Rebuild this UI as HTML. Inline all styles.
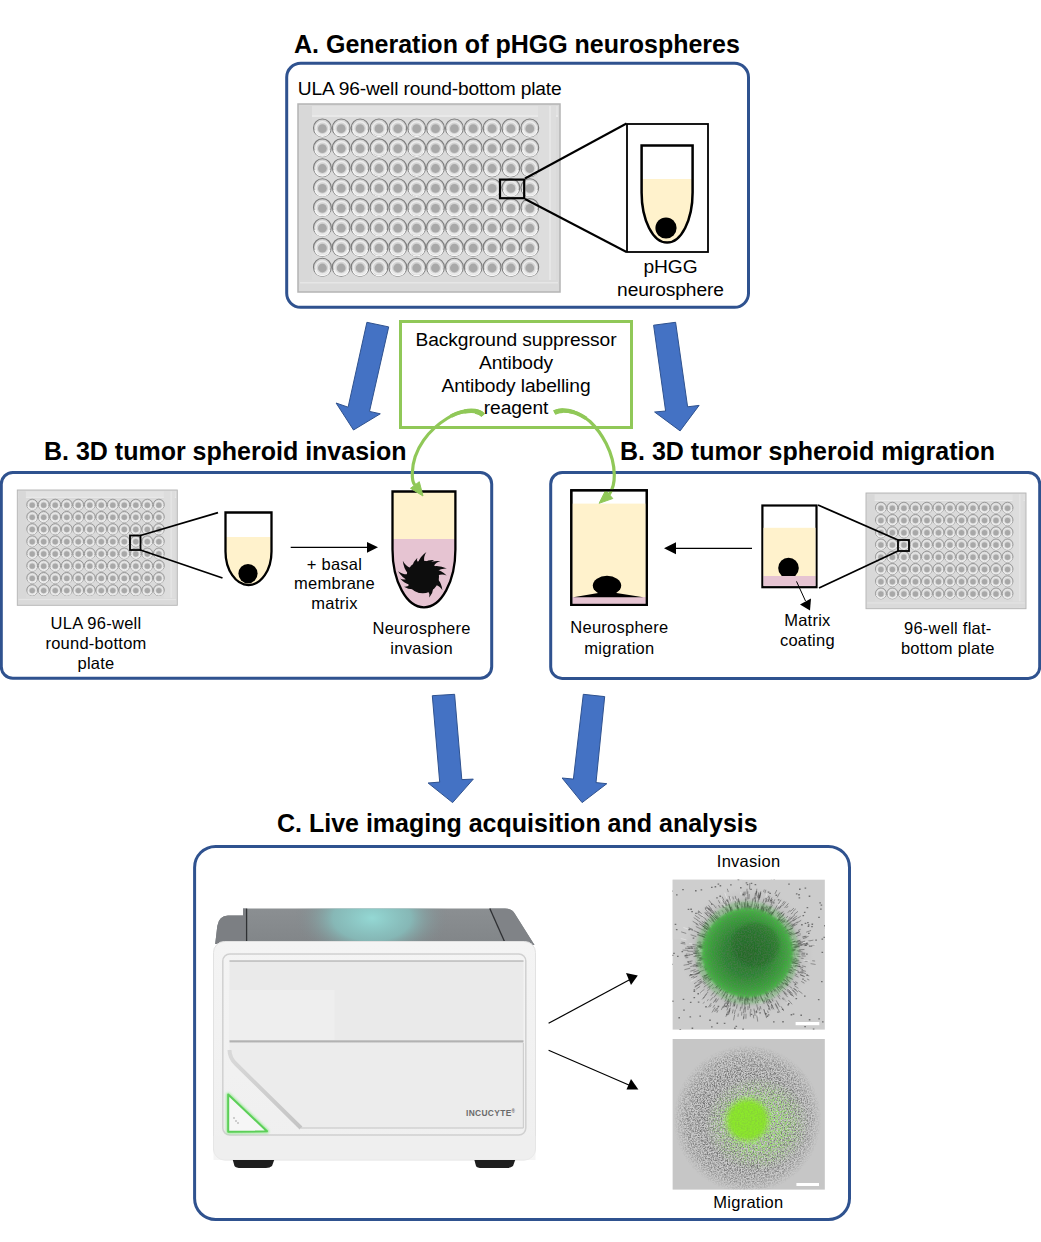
<!DOCTYPE html><html><head><meta charset="utf-8"><style>html,body{margin:0;padding:0;background:#fff;width:1041px;height:1242px;overflow:hidden;}svg{display:block;}text{font-family:"Liberation Sans",sans-serif;}</style></head><body>
<svg width="1041" height="1242" viewBox="0 0 1041 1242">
<defs>
<linearGradient id="plg" x1="0" y1="0" x2="1" y2="1"><stop offset="0" stop-color="#d9d9d9"/><stop offset="1" stop-color="#cfcfcf"/></linearGradient>
<g id="plate">
<rect x="0" y="0" width="262" height="188" fill="#dadada"/>
<rect x="0" y="0" width="262" height="188" fill="none" stroke="#b4b4b4" stroke-width="1.5"/>
<rect x="2" y="2" width="258" height="9" fill="#e2e2e2"/>
<rect x="2" y="11" width="258" height="2" fill="#e9e9e9"/>
<rect x="240" y="2" width="18" height="184" fill="#dddddd"/>
<rect x="251" y="2" width="2" height="184" fill="#e6e6e6"/>
<rect x="2" y="2" width="12" height="184" fill="#d8d8d8"/>
<rect x="2" y="176" width="258" height="10" fill="#dadada"/>
<rect x="2" y="178" width="258" height="1.5" fill="#e6e6e6"/>
<circle cx="24.4" cy="23.9" r="8.9" fill="#d4d4d4" stroke="#7c7c7c" stroke-width="1.1"/>
<circle cx="24.4" cy="24.3" r="6.5" fill="none" stroke="#ececec" stroke-width="1.5"/>
<path d="M17.0,26.4 A7.6,7.6 0 0 0 31.8,26.4" fill="none" stroke="#f6f6f6" stroke-width="1.4"/>
<circle cx="24.4" cy="24.7" r="4.4" fill="#a8a8a8"/>
<circle cx="43.2" cy="23.9" r="8.9" fill="#d4d4d4" stroke="#7c7c7c" stroke-width="1.1"/>
<circle cx="43.2" cy="24.3" r="6.5" fill="none" stroke="#ececec" stroke-width="1.5"/>
<path d="M35.9,26.4 A7.6,7.6 0 0 0 50.6,26.4" fill="none" stroke="#f6f6f6" stroke-width="1.4"/>
<circle cx="43.2" cy="24.7" r="4.4" fill="#a8a8a8"/>
<circle cx="62.1" cy="23.9" r="8.9" fill="#d4d4d4" stroke="#7c7c7c" stroke-width="1.1"/>
<circle cx="62.1" cy="24.3" r="6.5" fill="none" stroke="#ececec" stroke-width="1.5"/>
<path d="M54.7,26.4 A7.6,7.6 0 0 0 69.5,26.4" fill="none" stroke="#f6f6f6" stroke-width="1.4"/>
<circle cx="62.1" cy="24.7" r="4.4" fill="#a8a8a8"/>
<circle cx="81.0" cy="23.9" r="8.9" fill="#d4d4d4" stroke="#7c7c7c" stroke-width="1.1"/>
<circle cx="81.0" cy="24.3" r="6.5" fill="none" stroke="#ececec" stroke-width="1.5"/>
<path d="M73.5,26.4 A7.6,7.6 0 0 0 88.4,26.4" fill="none" stroke="#f6f6f6" stroke-width="1.4"/>
<circle cx="81.0" cy="24.7" r="4.4" fill="#a8a8a8"/>
<circle cx="99.8" cy="23.9" r="8.9" fill="#d4d4d4" stroke="#7c7c7c" stroke-width="1.1"/>
<circle cx="99.8" cy="24.3" r="6.5" fill="none" stroke="#ececec" stroke-width="1.5"/>
<path d="M92.4,26.4 A7.6,7.6 0 0 0 107.2,26.4" fill="none" stroke="#f6f6f6" stroke-width="1.4"/>
<circle cx="99.8" cy="24.7" r="4.4" fill="#a8a8a8"/>
<circle cx="118.7" cy="23.9" r="8.9" fill="#d4d4d4" stroke="#7c7c7c" stroke-width="1.1"/>
<circle cx="118.7" cy="24.3" r="6.5" fill="none" stroke="#ececec" stroke-width="1.5"/>
<path d="M111.2,26.4 A7.6,7.6 0 0 0 126.1,26.4" fill="none" stroke="#f6f6f6" stroke-width="1.4"/>
<circle cx="118.7" cy="24.7" r="4.4" fill="#a8a8a8"/>
<circle cx="137.5" cy="23.9" r="8.9" fill="#d4d4d4" stroke="#7c7c7c" stroke-width="1.1"/>
<circle cx="137.5" cy="24.3" r="6.5" fill="none" stroke="#ececec" stroke-width="1.5"/>
<path d="M130.1,26.4 A7.6,7.6 0 0 0 144.9,26.4" fill="none" stroke="#f6f6f6" stroke-width="1.4"/>
<circle cx="137.5" cy="24.7" r="4.4" fill="#a8a8a8"/>
<circle cx="156.4" cy="23.9" r="8.9" fill="#d4d4d4" stroke="#7c7c7c" stroke-width="1.1"/>
<circle cx="156.4" cy="24.3" r="6.5" fill="none" stroke="#ececec" stroke-width="1.5"/>
<path d="M149.0,26.4 A7.6,7.6 0 0 0 163.8,26.4" fill="none" stroke="#f6f6f6" stroke-width="1.4"/>
<circle cx="156.4" cy="24.7" r="4.4" fill="#a8a8a8"/>
<circle cx="175.2" cy="23.9" r="8.9" fill="#d4d4d4" stroke="#7c7c7c" stroke-width="1.1"/>
<circle cx="175.2" cy="24.3" r="6.5" fill="none" stroke="#ececec" stroke-width="1.5"/>
<path d="M167.8,26.4 A7.6,7.6 0 0 0 182.6,26.4" fill="none" stroke="#f6f6f6" stroke-width="1.4"/>
<circle cx="175.2" cy="24.7" r="4.4" fill="#a8a8a8"/>
<circle cx="194.1" cy="23.9" r="8.9" fill="#d4d4d4" stroke="#7c7c7c" stroke-width="1.1"/>
<circle cx="194.1" cy="24.3" r="6.5" fill="none" stroke="#ececec" stroke-width="1.5"/>
<path d="M186.7,26.4 A7.6,7.6 0 0 0 201.5,26.4" fill="none" stroke="#f6f6f6" stroke-width="1.4"/>
<circle cx="194.1" cy="24.7" r="4.4" fill="#a8a8a8"/>
<circle cx="212.9" cy="23.9" r="8.9" fill="#d4d4d4" stroke="#7c7c7c" stroke-width="1.1"/>
<circle cx="212.9" cy="24.3" r="6.5" fill="none" stroke="#ececec" stroke-width="1.5"/>
<path d="M205.5,26.4 A7.6,7.6 0 0 0 220.3,26.4" fill="none" stroke="#f6f6f6" stroke-width="1.4"/>
<circle cx="212.9" cy="24.7" r="4.4" fill="#a8a8a8"/>
<circle cx="231.8" cy="23.9" r="8.9" fill="#d4d4d4" stroke="#7c7c7c" stroke-width="1.1"/>
<circle cx="231.8" cy="24.3" r="6.5" fill="none" stroke="#ececec" stroke-width="1.5"/>
<path d="M224.4,26.4 A7.6,7.6 0 0 0 239.2,26.4" fill="none" stroke="#f6f6f6" stroke-width="1.4"/>
<circle cx="231.8" cy="24.7" r="4.4" fill="#a8a8a8"/>
<circle cx="24.4" cy="43.8" r="8.9" fill="#d4d4d4" stroke="#7c7c7c" stroke-width="1.1"/>
<circle cx="24.4" cy="44.2" r="6.5" fill="none" stroke="#ececec" stroke-width="1.5"/>
<path d="M17.0,46.3 A7.6,7.6 0 0 0 31.8,46.3" fill="none" stroke="#f6f6f6" stroke-width="1.4"/>
<circle cx="24.4" cy="44.6" r="4.4" fill="#a8a8a8"/>
<circle cx="43.2" cy="43.8" r="8.9" fill="#d4d4d4" stroke="#7c7c7c" stroke-width="1.1"/>
<circle cx="43.2" cy="44.2" r="6.5" fill="none" stroke="#ececec" stroke-width="1.5"/>
<path d="M35.9,46.3 A7.6,7.6 0 0 0 50.6,46.3" fill="none" stroke="#f6f6f6" stroke-width="1.4"/>
<circle cx="43.2" cy="44.6" r="4.4" fill="#a8a8a8"/>
<circle cx="62.1" cy="43.8" r="8.9" fill="#d4d4d4" stroke="#7c7c7c" stroke-width="1.1"/>
<circle cx="62.1" cy="44.2" r="6.5" fill="none" stroke="#ececec" stroke-width="1.5"/>
<path d="M54.7,46.3 A7.6,7.6 0 0 0 69.5,46.3" fill="none" stroke="#f6f6f6" stroke-width="1.4"/>
<circle cx="62.1" cy="44.6" r="4.4" fill="#a8a8a8"/>
<circle cx="81.0" cy="43.8" r="8.9" fill="#d4d4d4" stroke="#7c7c7c" stroke-width="1.1"/>
<circle cx="81.0" cy="44.2" r="6.5" fill="none" stroke="#ececec" stroke-width="1.5"/>
<path d="M73.5,46.3 A7.6,7.6 0 0 0 88.4,46.3" fill="none" stroke="#f6f6f6" stroke-width="1.4"/>
<circle cx="81.0" cy="44.6" r="4.4" fill="#a8a8a8"/>
<circle cx="99.8" cy="43.8" r="8.9" fill="#d4d4d4" stroke="#7c7c7c" stroke-width="1.1"/>
<circle cx="99.8" cy="44.2" r="6.5" fill="none" stroke="#ececec" stroke-width="1.5"/>
<path d="M92.4,46.3 A7.6,7.6 0 0 0 107.2,46.3" fill="none" stroke="#f6f6f6" stroke-width="1.4"/>
<circle cx="99.8" cy="44.6" r="4.4" fill="#a8a8a8"/>
<circle cx="118.7" cy="43.8" r="8.9" fill="#d4d4d4" stroke="#7c7c7c" stroke-width="1.1"/>
<circle cx="118.7" cy="44.2" r="6.5" fill="none" stroke="#ececec" stroke-width="1.5"/>
<path d="M111.2,46.3 A7.6,7.6 0 0 0 126.1,46.3" fill="none" stroke="#f6f6f6" stroke-width="1.4"/>
<circle cx="118.7" cy="44.6" r="4.4" fill="#a8a8a8"/>
<circle cx="137.5" cy="43.8" r="8.9" fill="#d4d4d4" stroke="#7c7c7c" stroke-width="1.1"/>
<circle cx="137.5" cy="44.2" r="6.5" fill="none" stroke="#ececec" stroke-width="1.5"/>
<path d="M130.1,46.3 A7.6,7.6 0 0 0 144.9,46.3" fill="none" stroke="#f6f6f6" stroke-width="1.4"/>
<circle cx="137.5" cy="44.6" r="4.4" fill="#a8a8a8"/>
<circle cx="156.4" cy="43.8" r="8.9" fill="#d4d4d4" stroke="#7c7c7c" stroke-width="1.1"/>
<circle cx="156.4" cy="44.2" r="6.5" fill="none" stroke="#ececec" stroke-width="1.5"/>
<path d="M149.0,46.3 A7.6,7.6 0 0 0 163.8,46.3" fill="none" stroke="#f6f6f6" stroke-width="1.4"/>
<circle cx="156.4" cy="44.6" r="4.4" fill="#a8a8a8"/>
<circle cx="175.2" cy="43.8" r="8.9" fill="#d4d4d4" stroke="#7c7c7c" stroke-width="1.1"/>
<circle cx="175.2" cy="44.2" r="6.5" fill="none" stroke="#ececec" stroke-width="1.5"/>
<path d="M167.8,46.3 A7.6,7.6 0 0 0 182.6,46.3" fill="none" stroke="#f6f6f6" stroke-width="1.4"/>
<circle cx="175.2" cy="44.6" r="4.4" fill="#a8a8a8"/>
<circle cx="194.1" cy="43.8" r="8.9" fill="#d4d4d4" stroke="#7c7c7c" stroke-width="1.1"/>
<circle cx="194.1" cy="44.2" r="6.5" fill="none" stroke="#ececec" stroke-width="1.5"/>
<path d="M186.7,46.3 A7.6,7.6 0 0 0 201.5,46.3" fill="none" stroke="#f6f6f6" stroke-width="1.4"/>
<circle cx="194.1" cy="44.6" r="4.4" fill="#a8a8a8"/>
<circle cx="212.9" cy="43.8" r="8.9" fill="#d4d4d4" stroke="#7c7c7c" stroke-width="1.1"/>
<circle cx="212.9" cy="44.2" r="6.5" fill="none" stroke="#ececec" stroke-width="1.5"/>
<path d="M205.5,46.3 A7.6,7.6 0 0 0 220.3,46.3" fill="none" stroke="#f6f6f6" stroke-width="1.4"/>
<circle cx="212.9" cy="44.6" r="4.4" fill="#a8a8a8"/>
<circle cx="231.8" cy="43.8" r="8.9" fill="#d4d4d4" stroke="#7c7c7c" stroke-width="1.1"/>
<circle cx="231.8" cy="44.2" r="6.5" fill="none" stroke="#ececec" stroke-width="1.5"/>
<path d="M224.4,46.3 A7.6,7.6 0 0 0 239.2,46.3" fill="none" stroke="#f6f6f6" stroke-width="1.4"/>
<circle cx="231.8" cy="44.6" r="4.4" fill="#a8a8a8"/>
<circle cx="24.4" cy="63.7" r="8.9" fill="#d4d4d4" stroke="#7c7c7c" stroke-width="1.1"/>
<circle cx="24.4" cy="64.1" r="6.5" fill="none" stroke="#ececec" stroke-width="1.5"/>
<path d="M17.0,66.2 A7.6,7.6 0 0 0 31.8,66.2" fill="none" stroke="#f6f6f6" stroke-width="1.4"/>
<circle cx="24.4" cy="64.5" r="4.4" fill="#a8a8a8"/>
<circle cx="43.2" cy="63.7" r="8.9" fill="#d4d4d4" stroke="#7c7c7c" stroke-width="1.1"/>
<circle cx="43.2" cy="64.1" r="6.5" fill="none" stroke="#ececec" stroke-width="1.5"/>
<path d="M35.9,66.2 A7.6,7.6 0 0 0 50.6,66.2" fill="none" stroke="#f6f6f6" stroke-width="1.4"/>
<circle cx="43.2" cy="64.5" r="4.4" fill="#a8a8a8"/>
<circle cx="62.1" cy="63.7" r="8.9" fill="#d4d4d4" stroke="#7c7c7c" stroke-width="1.1"/>
<circle cx="62.1" cy="64.1" r="6.5" fill="none" stroke="#ececec" stroke-width="1.5"/>
<path d="M54.7,66.2 A7.6,7.6 0 0 0 69.5,66.2" fill="none" stroke="#f6f6f6" stroke-width="1.4"/>
<circle cx="62.1" cy="64.5" r="4.4" fill="#a8a8a8"/>
<circle cx="81.0" cy="63.7" r="8.9" fill="#d4d4d4" stroke="#7c7c7c" stroke-width="1.1"/>
<circle cx="81.0" cy="64.1" r="6.5" fill="none" stroke="#ececec" stroke-width="1.5"/>
<path d="M73.5,66.2 A7.6,7.6 0 0 0 88.4,66.2" fill="none" stroke="#f6f6f6" stroke-width="1.4"/>
<circle cx="81.0" cy="64.5" r="4.4" fill="#a8a8a8"/>
<circle cx="99.8" cy="63.7" r="8.9" fill="#d4d4d4" stroke="#7c7c7c" stroke-width="1.1"/>
<circle cx="99.8" cy="64.1" r="6.5" fill="none" stroke="#ececec" stroke-width="1.5"/>
<path d="M92.4,66.2 A7.6,7.6 0 0 0 107.2,66.2" fill="none" stroke="#f6f6f6" stroke-width="1.4"/>
<circle cx="99.8" cy="64.5" r="4.4" fill="#a8a8a8"/>
<circle cx="118.7" cy="63.7" r="8.9" fill="#d4d4d4" stroke="#7c7c7c" stroke-width="1.1"/>
<circle cx="118.7" cy="64.1" r="6.5" fill="none" stroke="#ececec" stroke-width="1.5"/>
<path d="M111.2,66.2 A7.6,7.6 0 0 0 126.1,66.2" fill="none" stroke="#f6f6f6" stroke-width="1.4"/>
<circle cx="118.7" cy="64.5" r="4.4" fill="#a8a8a8"/>
<circle cx="137.5" cy="63.7" r="8.9" fill="#d4d4d4" stroke="#7c7c7c" stroke-width="1.1"/>
<circle cx="137.5" cy="64.1" r="6.5" fill="none" stroke="#ececec" stroke-width="1.5"/>
<path d="M130.1,66.2 A7.6,7.6 0 0 0 144.9,66.2" fill="none" stroke="#f6f6f6" stroke-width="1.4"/>
<circle cx="137.5" cy="64.5" r="4.4" fill="#a8a8a8"/>
<circle cx="156.4" cy="63.7" r="8.9" fill="#d4d4d4" stroke="#7c7c7c" stroke-width="1.1"/>
<circle cx="156.4" cy="64.1" r="6.5" fill="none" stroke="#ececec" stroke-width="1.5"/>
<path d="M149.0,66.2 A7.6,7.6 0 0 0 163.8,66.2" fill="none" stroke="#f6f6f6" stroke-width="1.4"/>
<circle cx="156.4" cy="64.5" r="4.4" fill="#a8a8a8"/>
<circle cx="175.2" cy="63.7" r="8.9" fill="#d4d4d4" stroke="#7c7c7c" stroke-width="1.1"/>
<circle cx="175.2" cy="64.1" r="6.5" fill="none" stroke="#ececec" stroke-width="1.5"/>
<path d="M167.8,66.2 A7.6,7.6 0 0 0 182.6,66.2" fill="none" stroke="#f6f6f6" stroke-width="1.4"/>
<circle cx="175.2" cy="64.5" r="4.4" fill="#a8a8a8"/>
<circle cx="194.1" cy="63.7" r="8.9" fill="#d4d4d4" stroke="#7c7c7c" stroke-width="1.1"/>
<circle cx="194.1" cy="64.1" r="6.5" fill="none" stroke="#ececec" stroke-width="1.5"/>
<path d="M186.7,66.2 A7.6,7.6 0 0 0 201.5,66.2" fill="none" stroke="#f6f6f6" stroke-width="1.4"/>
<circle cx="194.1" cy="64.5" r="4.4" fill="#a8a8a8"/>
<circle cx="212.9" cy="63.7" r="8.9" fill="#d4d4d4" stroke="#7c7c7c" stroke-width="1.1"/>
<circle cx="212.9" cy="64.1" r="6.5" fill="none" stroke="#ececec" stroke-width="1.5"/>
<path d="M205.5,66.2 A7.6,7.6 0 0 0 220.3,66.2" fill="none" stroke="#f6f6f6" stroke-width="1.4"/>
<circle cx="212.9" cy="64.5" r="4.4" fill="#a8a8a8"/>
<circle cx="231.8" cy="63.7" r="8.9" fill="#d4d4d4" stroke="#7c7c7c" stroke-width="1.1"/>
<circle cx="231.8" cy="64.1" r="6.5" fill="none" stroke="#ececec" stroke-width="1.5"/>
<path d="M224.4,66.2 A7.6,7.6 0 0 0 239.2,66.2" fill="none" stroke="#f6f6f6" stroke-width="1.4"/>
<circle cx="231.8" cy="64.5" r="4.4" fill="#a8a8a8"/>
<circle cx="24.4" cy="83.6" r="8.9" fill="#d4d4d4" stroke="#7c7c7c" stroke-width="1.1"/>
<circle cx="24.4" cy="84.0" r="6.5" fill="none" stroke="#ececec" stroke-width="1.5"/>
<path d="M17.0,86.1 A7.6,7.6 0 0 0 31.8,86.1" fill="none" stroke="#f6f6f6" stroke-width="1.4"/>
<circle cx="24.4" cy="84.4" r="4.4" fill="#a8a8a8"/>
<circle cx="43.2" cy="83.6" r="8.9" fill="#d4d4d4" stroke="#7c7c7c" stroke-width="1.1"/>
<circle cx="43.2" cy="84.0" r="6.5" fill="none" stroke="#ececec" stroke-width="1.5"/>
<path d="M35.9,86.1 A7.6,7.6 0 0 0 50.6,86.1" fill="none" stroke="#f6f6f6" stroke-width="1.4"/>
<circle cx="43.2" cy="84.4" r="4.4" fill="#a8a8a8"/>
<circle cx="62.1" cy="83.6" r="8.9" fill="#d4d4d4" stroke="#7c7c7c" stroke-width="1.1"/>
<circle cx="62.1" cy="84.0" r="6.5" fill="none" stroke="#ececec" stroke-width="1.5"/>
<path d="M54.7,86.1 A7.6,7.6 0 0 0 69.5,86.1" fill="none" stroke="#f6f6f6" stroke-width="1.4"/>
<circle cx="62.1" cy="84.4" r="4.4" fill="#a8a8a8"/>
<circle cx="81.0" cy="83.6" r="8.9" fill="#d4d4d4" stroke="#7c7c7c" stroke-width="1.1"/>
<circle cx="81.0" cy="84.0" r="6.5" fill="none" stroke="#ececec" stroke-width="1.5"/>
<path d="M73.5,86.1 A7.6,7.6 0 0 0 88.4,86.1" fill="none" stroke="#f6f6f6" stroke-width="1.4"/>
<circle cx="81.0" cy="84.4" r="4.4" fill="#a8a8a8"/>
<circle cx="99.8" cy="83.6" r="8.9" fill="#d4d4d4" stroke="#7c7c7c" stroke-width="1.1"/>
<circle cx="99.8" cy="84.0" r="6.5" fill="none" stroke="#ececec" stroke-width="1.5"/>
<path d="M92.4,86.1 A7.6,7.6 0 0 0 107.2,86.1" fill="none" stroke="#f6f6f6" stroke-width="1.4"/>
<circle cx="99.8" cy="84.4" r="4.4" fill="#a8a8a8"/>
<circle cx="118.7" cy="83.6" r="8.9" fill="#d4d4d4" stroke="#7c7c7c" stroke-width="1.1"/>
<circle cx="118.7" cy="84.0" r="6.5" fill="none" stroke="#ececec" stroke-width="1.5"/>
<path d="M111.2,86.1 A7.6,7.6 0 0 0 126.1,86.1" fill="none" stroke="#f6f6f6" stroke-width="1.4"/>
<circle cx="118.7" cy="84.4" r="4.4" fill="#a8a8a8"/>
<circle cx="137.5" cy="83.6" r="8.9" fill="#d4d4d4" stroke="#7c7c7c" stroke-width="1.1"/>
<circle cx="137.5" cy="84.0" r="6.5" fill="none" stroke="#ececec" stroke-width="1.5"/>
<path d="M130.1,86.1 A7.6,7.6 0 0 0 144.9,86.1" fill="none" stroke="#f6f6f6" stroke-width="1.4"/>
<circle cx="137.5" cy="84.4" r="4.4" fill="#a8a8a8"/>
<circle cx="156.4" cy="83.6" r="8.9" fill="#d4d4d4" stroke="#7c7c7c" stroke-width="1.1"/>
<circle cx="156.4" cy="84.0" r="6.5" fill="none" stroke="#ececec" stroke-width="1.5"/>
<path d="M149.0,86.1 A7.6,7.6 0 0 0 163.8,86.1" fill="none" stroke="#f6f6f6" stroke-width="1.4"/>
<circle cx="156.4" cy="84.4" r="4.4" fill="#a8a8a8"/>
<circle cx="175.2" cy="83.6" r="8.9" fill="#d4d4d4" stroke="#7c7c7c" stroke-width="1.1"/>
<circle cx="175.2" cy="84.0" r="6.5" fill="none" stroke="#ececec" stroke-width="1.5"/>
<path d="M167.8,86.1 A7.6,7.6 0 0 0 182.6,86.1" fill="none" stroke="#f6f6f6" stroke-width="1.4"/>
<circle cx="175.2" cy="84.4" r="4.4" fill="#a8a8a8"/>
<circle cx="194.1" cy="83.6" r="8.9" fill="#d4d4d4" stroke="#7c7c7c" stroke-width="1.1"/>
<circle cx="194.1" cy="84.0" r="6.5" fill="none" stroke="#ececec" stroke-width="1.5"/>
<path d="M186.7,86.1 A7.6,7.6 0 0 0 201.5,86.1" fill="none" stroke="#f6f6f6" stroke-width="1.4"/>
<circle cx="194.1" cy="84.4" r="4.4" fill="#a8a8a8"/>
<circle cx="212.9" cy="83.6" r="8.9" fill="#d4d4d4" stroke="#7c7c7c" stroke-width="1.1"/>
<circle cx="212.9" cy="84.0" r="6.5" fill="none" stroke="#ececec" stroke-width="1.5"/>
<path d="M205.5,86.1 A7.6,7.6 0 0 0 220.3,86.1" fill="none" stroke="#f6f6f6" stroke-width="1.4"/>
<circle cx="212.9" cy="84.4" r="4.4" fill="#a8a8a8"/>
<circle cx="231.8" cy="83.6" r="8.9" fill="#d4d4d4" stroke="#7c7c7c" stroke-width="1.1"/>
<circle cx="231.8" cy="84.0" r="6.5" fill="none" stroke="#ececec" stroke-width="1.5"/>
<path d="M224.4,86.1 A7.6,7.6 0 0 0 239.2,86.1" fill="none" stroke="#f6f6f6" stroke-width="1.4"/>
<circle cx="231.8" cy="84.4" r="4.4" fill="#a8a8a8"/>
<circle cx="24.4" cy="103.5" r="8.9" fill="#d4d4d4" stroke="#7c7c7c" stroke-width="1.1"/>
<circle cx="24.4" cy="103.9" r="6.5" fill="none" stroke="#ececec" stroke-width="1.5"/>
<path d="M17.0,106.0 A7.6,7.6 0 0 0 31.8,106.0" fill="none" stroke="#f6f6f6" stroke-width="1.4"/>
<circle cx="24.4" cy="104.3" r="4.4" fill="#a8a8a8"/>
<circle cx="43.2" cy="103.5" r="8.9" fill="#d4d4d4" stroke="#7c7c7c" stroke-width="1.1"/>
<circle cx="43.2" cy="103.9" r="6.5" fill="none" stroke="#ececec" stroke-width="1.5"/>
<path d="M35.9,106.0 A7.6,7.6 0 0 0 50.6,106.0" fill="none" stroke="#f6f6f6" stroke-width="1.4"/>
<circle cx="43.2" cy="104.3" r="4.4" fill="#a8a8a8"/>
<circle cx="62.1" cy="103.5" r="8.9" fill="#d4d4d4" stroke="#7c7c7c" stroke-width="1.1"/>
<circle cx="62.1" cy="103.9" r="6.5" fill="none" stroke="#ececec" stroke-width="1.5"/>
<path d="M54.7,106.0 A7.6,7.6 0 0 0 69.5,106.0" fill="none" stroke="#f6f6f6" stroke-width="1.4"/>
<circle cx="62.1" cy="104.3" r="4.4" fill="#a8a8a8"/>
<circle cx="81.0" cy="103.5" r="8.9" fill="#d4d4d4" stroke="#7c7c7c" stroke-width="1.1"/>
<circle cx="81.0" cy="103.9" r="6.5" fill="none" stroke="#ececec" stroke-width="1.5"/>
<path d="M73.5,106.0 A7.6,7.6 0 0 0 88.4,106.0" fill="none" stroke="#f6f6f6" stroke-width="1.4"/>
<circle cx="81.0" cy="104.3" r="4.4" fill="#a8a8a8"/>
<circle cx="99.8" cy="103.5" r="8.9" fill="#d4d4d4" stroke="#7c7c7c" stroke-width="1.1"/>
<circle cx="99.8" cy="103.9" r="6.5" fill="none" stroke="#ececec" stroke-width="1.5"/>
<path d="M92.4,106.0 A7.6,7.6 0 0 0 107.2,106.0" fill="none" stroke="#f6f6f6" stroke-width="1.4"/>
<circle cx="99.8" cy="104.3" r="4.4" fill="#a8a8a8"/>
<circle cx="118.7" cy="103.5" r="8.9" fill="#d4d4d4" stroke="#7c7c7c" stroke-width="1.1"/>
<circle cx="118.7" cy="103.9" r="6.5" fill="none" stroke="#ececec" stroke-width="1.5"/>
<path d="M111.2,106.0 A7.6,7.6 0 0 0 126.1,106.0" fill="none" stroke="#f6f6f6" stroke-width="1.4"/>
<circle cx="118.7" cy="104.3" r="4.4" fill="#a8a8a8"/>
<circle cx="137.5" cy="103.5" r="8.9" fill="#d4d4d4" stroke="#7c7c7c" stroke-width="1.1"/>
<circle cx="137.5" cy="103.9" r="6.5" fill="none" stroke="#ececec" stroke-width="1.5"/>
<path d="M130.1,106.0 A7.6,7.6 0 0 0 144.9,106.0" fill="none" stroke="#f6f6f6" stroke-width="1.4"/>
<circle cx="137.5" cy="104.3" r="4.4" fill="#a8a8a8"/>
<circle cx="156.4" cy="103.5" r="8.9" fill="#d4d4d4" stroke="#7c7c7c" stroke-width="1.1"/>
<circle cx="156.4" cy="103.9" r="6.5" fill="none" stroke="#ececec" stroke-width="1.5"/>
<path d="M149.0,106.0 A7.6,7.6 0 0 0 163.8,106.0" fill="none" stroke="#f6f6f6" stroke-width="1.4"/>
<circle cx="156.4" cy="104.3" r="4.4" fill="#a8a8a8"/>
<circle cx="175.2" cy="103.5" r="8.9" fill="#d4d4d4" stroke="#7c7c7c" stroke-width="1.1"/>
<circle cx="175.2" cy="103.9" r="6.5" fill="none" stroke="#ececec" stroke-width="1.5"/>
<path d="M167.8,106.0 A7.6,7.6 0 0 0 182.6,106.0" fill="none" stroke="#f6f6f6" stroke-width="1.4"/>
<circle cx="175.2" cy="104.3" r="4.4" fill="#a8a8a8"/>
<circle cx="194.1" cy="103.5" r="8.9" fill="#d4d4d4" stroke="#7c7c7c" stroke-width="1.1"/>
<circle cx="194.1" cy="103.9" r="6.5" fill="none" stroke="#ececec" stroke-width="1.5"/>
<path d="M186.7,106.0 A7.6,7.6 0 0 0 201.5,106.0" fill="none" stroke="#f6f6f6" stroke-width="1.4"/>
<circle cx="194.1" cy="104.3" r="4.4" fill="#a8a8a8"/>
<circle cx="212.9" cy="103.5" r="8.9" fill="#d4d4d4" stroke="#7c7c7c" stroke-width="1.1"/>
<circle cx="212.9" cy="103.9" r="6.5" fill="none" stroke="#ececec" stroke-width="1.5"/>
<path d="M205.5,106.0 A7.6,7.6 0 0 0 220.3,106.0" fill="none" stroke="#f6f6f6" stroke-width="1.4"/>
<circle cx="212.9" cy="104.3" r="4.4" fill="#a8a8a8"/>
<circle cx="231.8" cy="103.5" r="8.9" fill="#d4d4d4" stroke="#7c7c7c" stroke-width="1.1"/>
<circle cx="231.8" cy="103.9" r="6.5" fill="none" stroke="#ececec" stroke-width="1.5"/>
<path d="M224.4,106.0 A7.6,7.6 0 0 0 239.2,106.0" fill="none" stroke="#f6f6f6" stroke-width="1.4"/>
<circle cx="231.8" cy="104.3" r="4.4" fill="#a8a8a8"/>
<circle cx="24.4" cy="123.4" r="8.9" fill="#d4d4d4" stroke="#7c7c7c" stroke-width="1.1"/>
<circle cx="24.4" cy="123.8" r="6.5" fill="none" stroke="#ececec" stroke-width="1.5"/>
<path d="M17.0,125.9 A7.6,7.6 0 0 0 31.8,125.9" fill="none" stroke="#f6f6f6" stroke-width="1.4"/>
<circle cx="24.4" cy="124.2" r="4.4" fill="#a8a8a8"/>
<circle cx="43.2" cy="123.4" r="8.9" fill="#d4d4d4" stroke="#7c7c7c" stroke-width="1.1"/>
<circle cx="43.2" cy="123.8" r="6.5" fill="none" stroke="#ececec" stroke-width="1.5"/>
<path d="M35.9,125.9 A7.6,7.6 0 0 0 50.6,125.9" fill="none" stroke="#f6f6f6" stroke-width="1.4"/>
<circle cx="43.2" cy="124.2" r="4.4" fill="#a8a8a8"/>
<circle cx="62.1" cy="123.4" r="8.9" fill="#d4d4d4" stroke="#7c7c7c" stroke-width="1.1"/>
<circle cx="62.1" cy="123.8" r="6.5" fill="none" stroke="#ececec" stroke-width="1.5"/>
<path d="M54.7,125.9 A7.6,7.6 0 0 0 69.5,125.9" fill="none" stroke="#f6f6f6" stroke-width="1.4"/>
<circle cx="62.1" cy="124.2" r="4.4" fill="#a8a8a8"/>
<circle cx="81.0" cy="123.4" r="8.9" fill="#d4d4d4" stroke="#7c7c7c" stroke-width="1.1"/>
<circle cx="81.0" cy="123.8" r="6.5" fill="none" stroke="#ececec" stroke-width="1.5"/>
<path d="M73.5,125.9 A7.6,7.6 0 0 0 88.4,125.9" fill="none" stroke="#f6f6f6" stroke-width="1.4"/>
<circle cx="81.0" cy="124.2" r="4.4" fill="#a8a8a8"/>
<circle cx="99.8" cy="123.4" r="8.9" fill="#d4d4d4" stroke="#7c7c7c" stroke-width="1.1"/>
<circle cx="99.8" cy="123.8" r="6.5" fill="none" stroke="#ececec" stroke-width="1.5"/>
<path d="M92.4,125.9 A7.6,7.6 0 0 0 107.2,125.9" fill="none" stroke="#f6f6f6" stroke-width="1.4"/>
<circle cx="99.8" cy="124.2" r="4.4" fill="#a8a8a8"/>
<circle cx="118.7" cy="123.4" r="8.9" fill="#d4d4d4" stroke="#7c7c7c" stroke-width="1.1"/>
<circle cx="118.7" cy="123.8" r="6.5" fill="none" stroke="#ececec" stroke-width="1.5"/>
<path d="M111.2,125.9 A7.6,7.6 0 0 0 126.1,125.9" fill="none" stroke="#f6f6f6" stroke-width="1.4"/>
<circle cx="118.7" cy="124.2" r="4.4" fill="#a8a8a8"/>
<circle cx="137.5" cy="123.4" r="8.9" fill="#d4d4d4" stroke="#7c7c7c" stroke-width="1.1"/>
<circle cx="137.5" cy="123.8" r="6.5" fill="none" stroke="#ececec" stroke-width="1.5"/>
<path d="M130.1,125.9 A7.6,7.6 0 0 0 144.9,125.9" fill="none" stroke="#f6f6f6" stroke-width="1.4"/>
<circle cx="137.5" cy="124.2" r="4.4" fill="#a8a8a8"/>
<circle cx="156.4" cy="123.4" r="8.9" fill="#d4d4d4" stroke="#7c7c7c" stroke-width="1.1"/>
<circle cx="156.4" cy="123.8" r="6.5" fill="none" stroke="#ececec" stroke-width="1.5"/>
<path d="M149.0,125.9 A7.6,7.6 0 0 0 163.8,125.9" fill="none" stroke="#f6f6f6" stroke-width="1.4"/>
<circle cx="156.4" cy="124.2" r="4.4" fill="#a8a8a8"/>
<circle cx="175.2" cy="123.4" r="8.9" fill="#d4d4d4" stroke="#7c7c7c" stroke-width="1.1"/>
<circle cx="175.2" cy="123.8" r="6.5" fill="none" stroke="#ececec" stroke-width="1.5"/>
<path d="M167.8,125.9 A7.6,7.6 0 0 0 182.6,125.9" fill="none" stroke="#f6f6f6" stroke-width="1.4"/>
<circle cx="175.2" cy="124.2" r="4.4" fill="#a8a8a8"/>
<circle cx="194.1" cy="123.4" r="8.9" fill="#d4d4d4" stroke="#7c7c7c" stroke-width="1.1"/>
<circle cx="194.1" cy="123.8" r="6.5" fill="none" stroke="#ececec" stroke-width="1.5"/>
<path d="M186.7,125.9 A7.6,7.6 0 0 0 201.5,125.9" fill="none" stroke="#f6f6f6" stroke-width="1.4"/>
<circle cx="194.1" cy="124.2" r="4.4" fill="#a8a8a8"/>
<circle cx="212.9" cy="123.4" r="8.9" fill="#d4d4d4" stroke="#7c7c7c" stroke-width="1.1"/>
<circle cx="212.9" cy="123.8" r="6.5" fill="none" stroke="#ececec" stroke-width="1.5"/>
<path d="M205.5,125.9 A7.6,7.6 0 0 0 220.3,125.9" fill="none" stroke="#f6f6f6" stroke-width="1.4"/>
<circle cx="212.9" cy="124.2" r="4.4" fill="#a8a8a8"/>
<circle cx="231.8" cy="123.4" r="8.9" fill="#d4d4d4" stroke="#7c7c7c" stroke-width="1.1"/>
<circle cx="231.8" cy="123.8" r="6.5" fill="none" stroke="#ececec" stroke-width="1.5"/>
<path d="M224.4,125.9 A7.6,7.6 0 0 0 239.2,125.9" fill="none" stroke="#f6f6f6" stroke-width="1.4"/>
<circle cx="231.8" cy="124.2" r="4.4" fill="#a8a8a8"/>
<circle cx="24.4" cy="143.3" r="8.9" fill="#d4d4d4" stroke="#7c7c7c" stroke-width="1.1"/>
<circle cx="24.4" cy="143.7" r="6.5" fill="none" stroke="#ececec" stroke-width="1.5"/>
<path d="M17.0,145.8 A7.6,7.6 0 0 0 31.8,145.8" fill="none" stroke="#f6f6f6" stroke-width="1.4"/>
<circle cx="24.4" cy="144.1" r="4.4" fill="#a8a8a8"/>
<circle cx="43.2" cy="143.3" r="8.9" fill="#d4d4d4" stroke="#7c7c7c" stroke-width="1.1"/>
<circle cx="43.2" cy="143.7" r="6.5" fill="none" stroke="#ececec" stroke-width="1.5"/>
<path d="M35.9,145.8 A7.6,7.6 0 0 0 50.6,145.8" fill="none" stroke="#f6f6f6" stroke-width="1.4"/>
<circle cx="43.2" cy="144.1" r="4.4" fill="#a8a8a8"/>
<circle cx="62.1" cy="143.3" r="8.9" fill="#d4d4d4" stroke="#7c7c7c" stroke-width="1.1"/>
<circle cx="62.1" cy="143.7" r="6.5" fill="none" stroke="#ececec" stroke-width="1.5"/>
<path d="M54.7,145.8 A7.6,7.6 0 0 0 69.5,145.8" fill="none" stroke="#f6f6f6" stroke-width="1.4"/>
<circle cx="62.1" cy="144.1" r="4.4" fill="#a8a8a8"/>
<circle cx="81.0" cy="143.3" r="8.9" fill="#d4d4d4" stroke="#7c7c7c" stroke-width="1.1"/>
<circle cx="81.0" cy="143.7" r="6.5" fill="none" stroke="#ececec" stroke-width="1.5"/>
<path d="M73.5,145.8 A7.6,7.6 0 0 0 88.4,145.8" fill="none" stroke="#f6f6f6" stroke-width="1.4"/>
<circle cx="81.0" cy="144.1" r="4.4" fill="#a8a8a8"/>
<circle cx="99.8" cy="143.3" r="8.9" fill="#d4d4d4" stroke="#7c7c7c" stroke-width="1.1"/>
<circle cx="99.8" cy="143.7" r="6.5" fill="none" stroke="#ececec" stroke-width="1.5"/>
<path d="M92.4,145.8 A7.6,7.6 0 0 0 107.2,145.8" fill="none" stroke="#f6f6f6" stroke-width="1.4"/>
<circle cx="99.8" cy="144.1" r="4.4" fill="#a8a8a8"/>
<circle cx="118.7" cy="143.3" r="8.9" fill="#d4d4d4" stroke="#7c7c7c" stroke-width="1.1"/>
<circle cx="118.7" cy="143.7" r="6.5" fill="none" stroke="#ececec" stroke-width="1.5"/>
<path d="M111.2,145.8 A7.6,7.6 0 0 0 126.1,145.8" fill="none" stroke="#f6f6f6" stroke-width="1.4"/>
<circle cx="118.7" cy="144.1" r="4.4" fill="#a8a8a8"/>
<circle cx="137.5" cy="143.3" r="8.9" fill="#d4d4d4" stroke="#7c7c7c" stroke-width="1.1"/>
<circle cx="137.5" cy="143.7" r="6.5" fill="none" stroke="#ececec" stroke-width="1.5"/>
<path d="M130.1,145.8 A7.6,7.6 0 0 0 144.9,145.8" fill="none" stroke="#f6f6f6" stroke-width="1.4"/>
<circle cx="137.5" cy="144.1" r="4.4" fill="#a8a8a8"/>
<circle cx="156.4" cy="143.3" r="8.9" fill="#d4d4d4" stroke="#7c7c7c" stroke-width="1.1"/>
<circle cx="156.4" cy="143.7" r="6.5" fill="none" stroke="#ececec" stroke-width="1.5"/>
<path d="M149.0,145.8 A7.6,7.6 0 0 0 163.8,145.8" fill="none" stroke="#f6f6f6" stroke-width="1.4"/>
<circle cx="156.4" cy="144.1" r="4.4" fill="#a8a8a8"/>
<circle cx="175.2" cy="143.3" r="8.9" fill="#d4d4d4" stroke="#7c7c7c" stroke-width="1.1"/>
<circle cx="175.2" cy="143.7" r="6.5" fill="none" stroke="#ececec" stroke-width="1.5"/>
<path d="M167.8,145.8 A7.6,7.6 0 0 0 182.6,145.8" fill="none" stroke="#f6f6f6" stroke-width="1.4"/>
<circle cx="175.2" cy="144.1" r="4.4" fill="#a8a8a8"/>
<circle cx="194.1" cy="143.3" r="8.9" fill="#d4d4d4" stroke="#7c7c7c" stroke-width="1.1"/>
<circle cx="194.1" cy="143.7" r="6.5" fill="none" stroke="#ececec" stroke-width="1.5"/>
<path d="M186.7,145.8 A7.6,7.6 0 0 0 201.5,145.8" fill="none" stroke="#f6f6f6" stroke-width="1.4"/>
<circle cx="194.1" cy="144.1" r="4.4" fill="#a8a8a8"/>
<circle cx="212.9" cy="143.3" r="8.9" fill="#d4d4d4" stroke="#7c7c7c" stroke-width="1.1"/>
<circle cx="212.9" cy="143.7" r="6.5" fill="none" stroke="#ececec" stroke-width="1.5"/>
<path d="M205.5,145.8 A7.6,7.6 0 0 0 220.3,145.8" fill="none" stroke="#f6f6f6" stroke-width="1.4"/>
<circle cx="212.9" cy="144.1" r="4.4" fill="#a8a8a8"/>
<circle cx="231.8" cy="143.3" r="8.9" fill="#d4d4d4" stroke="#7c7c7c" stroke-width="1.1"/>
<circle cx="231.8" cy="143.7" r="6.5" fill="none" stroke="#ececec" stroke-width="1.5"/>
<path d="M224.4,145.8 A7.6,7.6 0 0 0 239.2,145.8" fill="none" stroke="#f6f6f6" stroke-width="1.4"/>
<circle cx="231.8" cy="144.1" r="4.4" fill="#a8a8a8"/>
<circle cx="24.4" cy="163.2" r="8.9" fill="#d4d4d4" stroke="#7c7c7c" stroke-width="1.1"/>
<circle cx="24.4" cy="163.6" r="6.5" fill="none" stroke="#ececec" stroke-width="1.5"/>
<path d="M17.0,165.7 A7.6,7.6 0 0 0 31.8,165.7" fill="none" stroke="#f6f6f6" stroke-width="1.4"/>
<circle cx="24.4" cy="164.0" r="4.4" fill="#a8a8a8"/>
<circle cx="43.2" cy="163.2" r="8.9" fill="#d4d4d4" stroke="#7c7c7c" stroke-width="1.1"/>
<circle cx="43.2" cy="163.6" r="6.5" fill="none" stroke="#ececec" stroke-width="1.5"/>
<path d="M35.9,165.7 A7.6,7.6 0 0 0 50.6,165.7" fill="none" stroke="#f6f6f6" stroke-width="1.4"/>
<circle cx="43.2" cy="164.0" r="4.4" fill="#a8a8a8"/>
<circle cx="62.1" cy="163.2" r="8.9" fill="#d4d4d4" stroke="#7c7c7c" stroke-width="1.1"/>
<circle cx="62.1" cy="163.6" r="6.5" fill="none" stroke="#ececec" stroke-width="1.5"/>
<path d="M54.7,165.7 A7.6,7.6 0 0 0 69.5,165.7" fill="none" stroke="#f6f6f6" stroke-width="1.4"/>
<circle cx="62.1" cy="164.0" r="4.4" fill="#a8a8a8"/>
<circle cx="81.0" cy="163.2" r="8.9" fill="#d4d4d4" stroke="#7c7c7c" stroke-width="1.1"/>
<circle cx="81.0" cy="163.6" r="6.5" fill="none" stroke="#ececec" stroke-width="1.5"/>
<path d="M73.5,165.7 A7.6,7.6 0 0 0 88.4,165.7" fill="none" stroke="#f6f6f6" stroke-width="1.4"/>
<circle cx="81.0" cy="164.0" r="4.4" fill="#a8a8a8"/>
<circle cx="99.8" cy="163.2" r="8.9" fill="#d4d4d4" stroke="#7c7c7c" stroke-width="1.1"/>
<circle cx="99.8" cy="163.6" r="6.5" fill="none" stroke="#ececec" stroke-width="1.5"/>
<path d="M92.4,165.7 A7.6,7.6 0 0 0 107.2,165.7" fill="none" stroke="#f6f6f6" stroke-width="1.4"/>
<circle cx="99.8" cy="164.0" r="4.4" fill="#a8a8a8"/>
<circle cx="118.7" cy="163.2" r="8.9" fill="#d4d4d4" stroke="#7c7c7c" stroke-width="1.1"/>
<circle cx="118.7" cy="163.6" r="6.5" fill="none" stroke="#ececec" stroke-width="1.5"/>
<path d="M111.2,165.7 A7.6,7.6 0 0 0 126.1,165.7" fill="none" stroke="#f6f6f6" stroke-width="1.4"/>
<circle cx="118.7" cy="164.0" r="4.4" fill="#a8a8a8"/>
<circle cx="137.5" cy="163.2" r="8.9" fill="#d4d4d4" stroke="#7c7c7c" stroke-width="1.1"/>
<circle cx="137.5" cy="163.6" r="6.5" fill="none" stroke="#ececec" stroke-width="1.5"/>
<path d="M130.1,165.7 A7.6,7.6 0 0 0 144.9,165.7" fill="none" stroke="#f6f6f6" stroke-width="1.4"/>
<circle cx="137.5" cy="164.0" r="4.4" fill="#a8a8a8"/>
<circle cx="156.4" cy="163.2" r="8.9" fill="#d4d4d4" stroke="#7c7c7c" stroke-width="1.1"/>
<circle cx="156.4" cy="163.6" r="6.5" fill="none" stroke="#ececec" stroke-width="1.5"/>
<path d="M149.0,165.7 A7.6,7.6 0 0 0 163.8,165.7" fill="none" stroke="#f6f6f6" stroke-width="1.4"/>
<circle cx="156.4" cy="164.0" r="4.4" fill="#a8a8a8"/>
<circle cx="175.2" cy="163.2" r="8.9" fill="#d4d4d4" stroke="#7c7c7c" stroke-width="1.1"/>
<circle cx="175.2" cy="163.6" r="6.5" fill="none" stroke="#ececec" stroke-width="1.5"/>
<path d="M167.8,165.7 A7.6,7.6 0 0 0 182.6,165.7" fill="none" stroke="#f6f6f6" stroke-width="1.4"/>
<circle cx="175.2" cy="164.0" r="4.4" fill="#a8a8a8"/>
<circle cx="194.1" cy="163.2" r="8.9" fill="#d4d4d4" stroke="#7c7c7c" stroke-width="1.1"/>
<circle cx="194.1" cy="163.6" r="6.5" fill="none" stroke="#ececec" stroke-width="1.5"/>
<path d="M186.7,165.7 A7.6,7.6 0 0 0 201.5,165.7" fill="none" stroke="#f6f6f6" stroke-width="1.4"/>
<circle cx="194.1" cy="164.0" r="4.4" fill="#a8a8a8"/>
<circle cx="212.9" cy="163.2" r="8.9" fill="#d4d4d4" stroke="#7c7c7c" stroke-width="1.1"/>
<circle cx="212.9" cy="163.6" r="6.5" fill="none" stroke="#ececec" stroke-width="1.5"/>
<path d="M205.5,165.7 A7.6,7.6 0 0 0 220.3,165.7" fill="none" stroke="#f6f6f6" stroke-width="1.4"/>
<circle cx="212.9" cy="164.0" r="4.4" fill="#a8a8a8"/>
<circle cx="231.8" cy="163.2" r="8.9" fill="#d4d4d4" stroke="#7c7c7c" stroke-width="1.1"/>
<circle cx="231.8" cy="163.6" r="6.5" fill="none" stroke="#ececec" stroke-width="1.5"/>
<path d="M224.4,165.7 A7.6,7.6 0 0 0 239.2,165.7" fill="none" stroke="#f6f6f6" stroke-width="1.4"/>
<circle cx="231.8" cy="164.0" r="4.4" fill="#a8a8a8"/>
</g>
<clipPath id="tA"><path d="M641.6,145.5 L641.6,192.6 A25.5,50.0 0 0 0 692.6,192.6 L692.6,145.5 Z"/></clipPath>
<clipPath id="tB1"><path d="M225.5,512.5 L225.5,551.5 A23.0,33.5 0 0 0 271.5,551.5 L271.5,512.5 Z"/></clipPath>
<clipPath id="tB2"><path d="M392.5,491.5 L392.5,549.5 A31.44999999999999,57.799999999999955 0 0 0 455.4,549.5 L455.4,491.5 Z"/></clipPath>
</defs>
<text x="294" y="52.8" font-size="25" text-anchor="start" font-weight="bold" fill="#000" >A. Generation of pHGG neurospheres</text>
<text x="44" y="460.1" font-size="25" text-anchor="start" font-weight="bold" fill="#000" >B. 3D tumor spheroid invasion</text>
<text x="620" y="460.1" font-size="25" text-anchor="start" font-weight="bold" fill="#000" >B. 3D tumor spheroid migration</text>
<text x="277" y="832" font-size="25" text-anchor="start" font-weight="bold" fill="#000" >C. Live imaging acquisition and analysis</text>
<rect x="286.7" y="63.3" width="461.8" height="244.0" rx="14" ry="14" fill="none" stroke="#2F528F" stroke-width="3"/>
<rect x="1.3" y="472.5" width="490.4" height="205.79999999999995" rx="11.5" ry="11.5" fill="none" stroke="#2F528F" stroke-width="3"/>
<rect x="550.7" y="472.5" width="489.0" height="205.89999999999998" rx="11.5" ry="11.5" fill="none" stroke="#2F528F" stroke-width="3"/>
<rect x="194.6" y="846.4" width="654.9" height="373.1" rx="21" ry="21" fill="none" stroke="#2F528F" stroke-width="3"/>
<text x="297.8" y="94.7" font-size="19.2" text-anchor="start" fill="#000" letter-spacing="-0.17">ULA 96-well round-bottom plate</text>
<use href="#plate" transform="translate(298,104) scale(1.0000,1.0000)"/>
<rect x="500" y="179.6" width="24.2" height="18.6" fill="none" stroke="#000" stroke-width="2.2"/>
<line x1="525" y1="178.5" x2="626.5" y2="123.5" stroke="#000" stroke-width="2"/>
<line x1="525" y1="199" x2="626.5" y2="252" stroke="#000" stroke-width="2"/>
<rect x="627" y="124" width="81" height="128" fill="#fff" stroke="#000" stroke-width="1.8"/>
<g clip-path="url(#tA)"><rect x="640" y="179" width="55" height="70" fill="#FFF2CC"/></g>
<circle cx="666" cy="228" r="10.6" fill="#000"/>
<path d="M641.6,145.5 L641.6,192.6 A25.5,50.0 0 0 0 692.6,192.6 L692.6,145.5 Z" fill="none" stroke="#000" stroke-width="2.5"/>
<text x="670.5" y="272.8" font-size="19.2" text-anchor="middle" font-weight="normal" fill="#000" letter-spacing="-0.08" >pHGG</text>
<text x="670.5" y="295.8" font-size="19.2" text-anchor="middle" font-weight="normal" fill="#000" letter-spacing="-0.08" >neurosphere</text>
<path d="M366.9,322.3 L388.7,326.9 L369.5,411.4 L380.3,413.8 L353.5,430 L336.1,403 L348.1,407.2 Z" fill="#4472C4" stroke="#2F528F" stroke-width="1"/>
<path d="M653.6,325.2 L675.6,322.3 L687.6,406.8 L699.1,405.4 L680.1,430.9 L654.6,412 L665.6,411 Z" fill="#4472C4" stroke="#2F528F" stroke-width="1"/>
<path d="M432.3,695.7 L454.6,694.3 L461.8,779.6 L473.3,779.1 L452.6,802.6 L428.1,783 L439.7,782.1 Z" fill="#4472C4" stroke="#2F528F" stroke-width="1"/>
<path d="M583.3,694.3 L604.7,696.6 L596,782.6 L606.8,783.7 L582.1,802.6 L562.1,778 L573.4,779.1 Z" fill="#4472C4" stroke="#2F528F" stroke-width="1"/>
<rect x="400.5" y="321.5" width="231" height="106" fill="#fff" stroke="#90C858" stroke-width="3"/>
<text x="516" y="346" font-size="19.2" text-anchor="middle" font-weight="normal" fill="#000" letter-spacing="-0.08" >Background suppressor</text>
<text x="516" y="369" font-size="19.2" text-anchor="middle" font-weight="normal" fill="#000" letter-spacing="-0.08" >Antibody</text>
<text x="516" y="391.5" font-size="19.2" text-anchor="middle" font-weight="normal" fill="#000" letter-spacing="-0.08" >Antibody labelling</text>
<text x="516" y="413.8" font-size="19.2" text-anchor="middle" font-weight="normal" fill="#000" letter-spacing="-0.08" >reagent</text>
<use href="#plate" transform="translate(17.3,490) scale(0.6107,0.6133)"/>
<rect x="130" y="535.5" width="10.5" height="14.5" fill="none" stroke="#000" stroke-width="1.8"/>
<line x1="140.5" y1="535.5" x2="218" y2="512.7" stroke="#000" stroke-width="1.8"/>
<line x1="140.5" y1="550" x2="222.5" y2="578" stroke="#000" stroke-width="1.8"/>
<g clip-path="url(#tB1)"><rect x="220" y="537" width="60" height="60" fill="#FFF2CC"/></g>
<circle cx="248" cy="573.6" r="9.6" fill="#000"/>
<path d="M225.5,512.5 L225.5,551.5 A23.0,33.5 0 0 0 271.5,551.5 L271.5,512.5 Z" fill="none" stroke="#000" stroke-width="2.3"/>
<text x="96" y="628.6" font-size="16.5" text-anchor="middle" font-weight="normal" fill="#000" letter-spacing="0.25" >ULA 96-well</text>
<text x="96" y="648.8" font-size="16.5" text-anchor="middle" font-weight="normal" fill="#000" letter-spacing="0.25" >round-bottom</text>
<text x="96" y="668.6" font-size="16.5" text-anchor="middle" font-weight="normal" fill="#000" letter-spacing="0.25" >plate</text>
<line x1="290.7" y1="547.3" x2="368" y2="547.3" stroke="#000" stroke-width="1.3"/>
<path d="M367,541.9 L378,547.3 L367,552.7 Z" fill="#000"/>
<text x="334.5" y="569.6" font-size="16.5" text-anchor="middle" font-weight="normal" fill="#000" letter-spacing="0.25" >+ basal</text>
<text x="334.5" y="589.4" font-size="16.5" text-anchor="middle" font-weight="normal" fill="#000" letter-spacing="0.25" >membrane</text>
<text x="334.5" y="609.4" font-size="16.5" text-anchor="middle" font-weight="normal" fill="#000" letter-spacing="0.25" >matrix</text>
<g clip-path="url(#tB2)"><rect x="390" y="491" width="70" height="48" fill="#FFF2CC"/><rect x="390" y="539" width="70" height="72" fill="#E6C4D2"/></g>
<path d="M418.2,562.5 Q420.2,556.5 426.4,552.1 Q423.5,556.3 424.2,561.9 Z M412.7,565.6 Q413.4,561.5 417.4,557.8 Q416.0,560.2 418.0,562.6 Z M408.0,573.5 Q403.6,568.6 402.8,560.8 Q405.2,565.7 410.5,568.0 Z M425.0,562.0 Q428.6,559.7 434.1,560.2 Q431.2,560.9 430.6,564.0 Z M428.6,563.0 Q433.6,560.2 440.6,561.1 Q436.2,562.1 433.6,566.3 Z M433.5,566.2 Q439.9,565.1 446.9,568.5 Q441.6,567.9 436.9,571.2 Z M436.0,569.5 Q441.7,570.4 446.6,575.4 Q442.5,573.5 437.9,575.2 Z M408.0,580.3 Q402.0,577.8 398.1,571.2 Q402.2,574.5 407.8,574.3 Z M409.5,584.4 Q404.4,583.3 400.1,578.4 Q403.6,580.3 407.7,578.7 Z M437.8,579.2 Q441.7,583.4 442.4,590.3 Q440.4,586.3 435.8,584.9 Z M413.7,589.2 Q409.1,589.7 404,586.7 Q407.2,587.3 409.7,584.6 Z M433.3,588.0 Q433.1,592.7 429.3,597.4 Q430.4,594.2 428.1,591.2 Z M424.6,592.1 Q421.8,593.3 417.4,592.6 Q419.2,592.9 418.6,591.6 Z" fill="#0d0d0d"/>
<circle cx="422.8" cy="577.0" r="16.2" fill="#0d0d0d"/>
<path d="M392.5,491.5 L392.5,549.5 A31.44999999999999,57.799999999999955 0 0 0 455.4,549.5 L455.4,491.5 Z" fill="none" stroke="#000" stroke-width="2.3"/>
<text x="421.6" y="633.6" font-size="16.5" text-anchor="middle" font-weight="normal" fill="#000" letter-spacing="0.25" >Neurosphere</text>
<text x="421.6" y="653.8" font-size="16.5" text-anchor="middle" font-weight="normal" fill="#000" letter-spacing="0.25" >invasion</text>
<rect x="571.3" y="490.3" width="75.5" height="114.6" fill="#fff" stroke="#000" stroke-width="2.2"/>
<rect x="572.4" y="503.6" width="73.3" height="93.5" fill="#FFF2CC"/>
<rect x="572.4" y="597" width="73.3" height="7.8" fill="#E6C4D2"/>
<path d="M573.3,597.2 L607,591.5 L643.3,597.2 Z" fill="#000"/>
<ellipse cx="607" cy="585.5" rx="14.2" ry="9.7" fill="#000"/>
<text x="619.4" y="633.3" font-size="16.5" text-anchor="middle" font-weight="normal" fill="#000" letter-spacing="0.25" >Neurosphere</text>
<text x="619.4" y="653.6" font-size="16.5" text-anchor="middle" font-weight="normal" fill="#000" letter-spacing="0.25" >migration</text>
<line x1="675" y1="548.3" x2="752" y2="548.3" stroke="#000" stroke-width="1.3"/>
<path d="M676,542.3 L664,548.3 L676,554.3 Z" fill="#000"/>
<rect x="762.4" y="505.5" width="54.1" height="81.7" fill="#fff" stroke="#000" stroke-width="2.2"/>
<rect x="763.5" y="527.8" width="52" height="48.2" fill="#FFF2CC"/>
<circle cx="788.5" cy="568" r="10.3" fill="#000"/>
<rect x="763.5" y="576" width="52" height="9.9" fill="#E6C4D2"/>
<line x1="796.5" y1="581.4" x2="805.5" y2="601" stroke="#000" stroke-width="1"/>
<path d="M800,604.5 L811,598.5 L810,610.4 Z" fill="#000"/>
<text x="807.4" y="625.6" font-size="16.5" text-anchor="middle" font-weight="normal" fill="#000" letter-spacing="0.25" >Matrix</text>
<text x="807.4" y="645.8" font-size="16.5" text-anchor="middle" font-weight="normal" fill="#000" letter-spacing="0.25" >coating</text>
<use href="#plate" transform="translate(866,493) scale(0.6107,0.6154)"/>
<rect x="898" y="540" width="11" height="11" fill="none" stroke="#000" stroke-width="1.8"/>
<line x1="818" y1="505" x2="898" y2="540" stroke="#000" stroke-width="1.8"/>
<line x1="819" y1="588" x2="898" y2="551" stroke="#000" stroke-width="1.8"/>
<text x="947.8" y="633.9" font-size="16.5" text-anchor="middle" font-weight="normal" fill="#000" letter-spacing="0.25" >96-well flat-</text>
<text x="947.8" y="653.8" font-size="16.5" text-anchor="middle" font-weight="normal" fill="#000" letter-spacing="0.25" >bottom plate</text>
<path d="M483.1,415.2 C478,409.5 463,408.5 447,418.5 C430,429 413,448 412.3,473 Q412,482 414.9,485" fill="none" stroke="#90C858" stroke-width="3.2"/>
<path d="M483.1,415.2 C478,409.5 463,408.5 447,418.5 C430,429 413,448 412.3,473 Q412,482 414.9,485" fill="none" stroke="#90C858" stroke-width="3.8" stroke-dasharray="34 1000"/>
<path d="M483.1,415.2 C478,409.5 463,408.5 447,418.5 C430,429 413,448 412.3,473 Q412,482 414.9,485" fill="none" stroke="#90C858" stroke-width="4.4" stroke-dasharray="20 1000"/>
<path d="M483.1,415.2 C478,409.5 463,408.5 447,418.5 C430,429 413,448 412.3,473 Q412,482 414.9,485" fill="none" stroke="#90C858" stroke-width="4.9" stroke-dasharray="9 1000"/>
<path d="M554.4,412.5 C560,409.5 575,408.5 590,421.5 C601,432 614,452 614.3,475 Q614.5,487 609.2,494.4" fill="none" stroke="#90C858" stroke-width="3.2"/>
<path d="M554.4,412.5 C560,409.5 575,408.5 590,421.5 C601,432 614,452 614.3,475 Q614.5,487 609.2,494.4" fill="none" stroke="#90C858" stroke-width="3.8" stroke-dasharray="34 1000"/>
<path d="M554.4,412.5 C560,409.5 575,408.5 590,421.5 C601,432 614,452 614.3,475 Q614.5,487 609.2,494.4" fill="none" stroke="#90C858" stroke-width="4.4" stroke-dasharray="20 1000"/>
<path d="M554.4,412.5 C560,409.5 575,408.5 590,421.5 C601,432 614,452 614.3,475 Q614.5,487 609.2,494.4" fill="none" stroke="#90C858" stroke-width="4.9" stroke-dasharray="9 1000"/>
<path d="M410.5,488.3 L419.3,481.7 L423,496 Z" fill="#90C858" stroke="#90C858" stroke-width="1" stroke-linejoin="round"/>
<path d="M612.8,498.5 L605.6,490.3 L599.1,503.3 Z" fill="#90C858" stroke="#90C858" stroke-width="1" stroke-linejoin="round"/>
<rect x="571.3" y="490.3" width="75.5" height="114.6" fill="none" stroke="#000" stroke-width="2.2"/>
<text x="748.6" y="866.8" font-size="16.5" text-anchor="middle" font-weight="normal" fill="#000" letter-spacing="0.25" >Invasion</text>
<text x="748.4" y="1207.8" font-size="16.5" text-anchor="middle" font-weight="normal" fill="#000" letter-spacing="0.25" >Migration</text>
<defs><radialGradient id="invg" cx="0.5" cy="0.5" r="0.5"><stop offset="0" stop-color="#24712a"/><stop offset="0.5" stop-color="#2b8530"/><stop offset="0.85" stop-color="#3aa83a"/><stop offset="1" stop-color="#4abd48"/></radialGradient><radialGradient id="halo" cx="0.5" cy="0.5" r="0.5"><stop offset="0.62" stop-color="#a4a4a4" stop-opacity="0.8"/><stop offset="0.8" stop-color="#b0b0b0" stop-opacity="0.45"/><stop offset="1" stop-color="#bbbbbb" stop-opacity="0"/></radialGradient><clipPath id="invclip"><rect x="672.4" y="879.4" width="152.5" height="150.4"/></clipPath><clipPath id="migclip"><rect x="672.4" y="1038.9" width="152.5" height="150.9"/></clipPath><filter id="soft" x="-20%" y="-20%" width="140%" height="140%"><feGaussianBlur stdDeviation="1.6"/></filter><filter id="soft2" x="-20%" y="-20%" width="140%" height="140%"><feGaussianBlur stdDeviation="0.5"/></filter><filter id="noiseG" x="0" y="0" width="100%" height="100%" color-interpolation-filters="sRGB"><feTurbulence type="fractalNoise" baseFrequency="0.7" numOctaves="2" seed="4"/><feColorMatrix type="matrix" values="0 0 0 0 0.45  0 0 0 0 0.45  0 0 0 0 0.45  2.8 0 0 0 -0.95"/><feGaussianBlur stdDeviation="0.55"/></filter><filter id="noiseL" x="0" y="0" width="100%" height="100%" color-interpolation-filters="sRGB"><feTurbulence type="fractalNoise" baseFrequency="0.8" numOctaves="2" seed="9"/><feColorMatrix type="matrix" values="0 0 0 0 0.84  0 0 0 0 0.84  0 0 0 0 0.84  0 3 0 0 -1.45"/><feGaussianBlur stdDeviation="0.55"/></filter><filter id="noiseV" x="0" y="0" width="100%" height="100%" color-interpolation-filters="sRGB"><feTurbulence type="fractalNoise" baseFrequency="0.7" numOctaves="2" seed="13"/><feColorMatrix type="matrix" values="0 0 0 0 0.6  0 0 0 0 0.9  0 0 0 0 0.42  0 0 4.5 0 -1.9"/><feGaussianBlur stdDeviation="0.4"/></filter><radialGradient id="mmask" cx="0.5" cy="0.5" r="0.5"><stop offset="0" stop-color="#ddd"/><stop offset="0.65" stop-color="#fff"/><stop offset="0.85" stop-color="#aaa"/><stop offset="1" stop-color="#000"/></radialGradient><radialGradient id="gmask" cx="0.5" cy="0.5" r="0.5"><stop offset="0" stop-color="#fff"/><stop offset="0.5" stop-color="#ddd"/><stop offset="1" stop-color="#000"/></radialGradient><mask id="mm" maskUnits="userSpaceOnUse" x="672" y="1038" width="154" height="153"><circle cx="747.4" cy="1119" r="74" fill="url(#mmask)"/></mask><mask id="gm" maskUnits="userSpaceOnUse" x="672" y="1038" width="154" height="153"><ellipse cx="757" cy="1124" rx="52" ry="47" fill="url(#gmask)"/></mask></defs>
<g clip-path="url(#invclip)">
<rect x="672.4" y="879.4" width="152.5" height="150.4" fill="#cccccc"/>
<rect x="672.4" y="879.4" width="70" height="60" fill="#d0d0d0" opacity="0.5"/>
<circle cx="747.4" cy="952.8" r="66" fill="url(#halo)"/>
<path d="M728.0,991.6L727.2,993.2M718.8,985.0L717.7,986.2M786.5,971.1L790.8,973.2M800.6,968.8L802.6,969.4M727.9,1003.5L726.5,1007.1M713.9,987.4L712.7,988.6M727.9,911.0L726.2,907.6M730.9,1003.9L730.1,1006.3M781.3,983.9L782.8,985.3M796.5,965.1L800.1,966.1M727.4,1000.0L725.9,1003.5M778.6,903.7L780.8,900.2M728.2,891.7L727.4,889.2M726.4,915.3L725.3,913.4M796.8,972.0L799.2,972.9M777.2,921.6L779.7,919.0M770.9,902.3L772.2,899.4M791.2,913.8L792.8,912.4M752.3,999.5L752.6,1002.1M707.8,974.9L703.2,977.5M698.2,948.0L696.4,947.8M757.9,897.8L758.5,894.8M787.1,983.0L788.5,984.1M770.9,991.1L771.7,992.4M783.8,979.7L787.8,982.7M773.6,988.2L775.4,990.6M782.2,904.2L784.2,901.4M783.4,979.7L787.3,982.6M805.2,961.2L807.2,961.5M811.0,963.7L815.2,964.4M718.3,985.1L715.9,987.8M726.4,991.3L723.7,996.0M766.2,901.8L767.0,899.5M720.9,986.7L719.3,988.8M790.9,940.2L793.2,939.5M765.6,1014.4L766.5,1017.7M760.6,911.8L762.2,906.9M747.4,905.9L747.4,901.3M762.5,912.1L764.4,907.1M712.2,904.5L709.2,900.5M758.1,995.6L758.7,998.0M744.7,998.7L744.4,1003.8M689.8,968.3L684.8,969.6M700.7,943.3L697.5,942.7M801.2,954.1L804.6,954.2M705.4,937.2L701.9,935.9M785.4,982.7L787.4,984.3M699.1,950.5L693.9,950.2M711.4,922.0L708.2,919.3M743.5,1016.9L743.4,1019.0M707.1,968.1L705.5,968.8M759.4,897.4L760.3,893.1M783.2,997.7L786.5,1001.9M687.9,957.6L685.8,957.7M702.7,948.4L699.9,948.1M795.3,958.7L796.8,958.9M713.6,919.5L709.7,915.6M789.9,945.2L791.5,944.9M741.9,995.7L741.2,1000.8M744.1,1014.0L743.9,1018.3M711.6,912.5L708.3,908.8M742.6,995.8L742.3,998.2M770.1,989.4L771.6,991.7M750.0,908.4L750.2,906.2M791.2,957.8L795.6,958.3M768.3,1005.0L770.0,1009.4M692.6,954.5L689.1,954.6M792.1,947.8L796.4,947.4M710.2,978.2L708.5,979.3M744.9,908.8L744.8,906.9M782.2,916.0L783.9,914.2M794.8,944.6L800.1,943.7M720.7,986.5L718.6,989.2M761.7,997.9L762.5,1000.3M712.7,978.2L710.5,979.8M706.4,928.3L702.8,926.2M780.4,921.4L784.4,917.7M739.3,903.4L738.5,898.6M711.1,915.4L709.6,913.9M692.6,951.3L687.8,951.2M787.2,921.0L789.1,919.5M777.7,986.4L780.9,989.9M712.9,917.1L710.5,914.6M762.9,902.6L764.0,899.1M795.2,973.9L796.8,974.6M741.7,909.5L741.0,904.1M712.7,984.4L709.3,987.4M720.5,919.1L718.9,917.2M731.1,998.5L730.6,1000.1M723.3,907.7L722.1,905.3M701.8,963.1L696.9,964.2M804.8,944.9L808.1,944.4M784.0,993.1L787.4,996.8M754.0,1009.1L754.2,1010.7M701.0,955.2L698.9,955.3M725.2,1003.1L723.4,1007.2M789.4,992.2L793.1,995.7M704.7,997.0L702.6,999.1M740.6,995.3L739.9,1000.1M787.9,935.5L791.2,934.1M706.4,994.6L703.1,998.0M797.1,922.8L800.8,920.5M742.3,906.6L741.8,902.6M802.3,970.2L805.5,971.3M730.3,1008.1L729.1,1012.0M704.7,936.7L702.7,936.0M706.2,966.2L704.4,966.8M784.4,976.6L787.5,978.7M747.3,906.9L747.3,903.3M724.7,989.4L721.9,994.0M697.7,951.7L695.3,951.7M747.8,998.5L747.9,1003.8M777.4,922.0L780.4,918.9M773.8,901.5L774.7,899.7M685.1,944.0L681.0,943.4M701.0,965.6L696.5,966.8M791.3,928.7L793.0,927.7M713.8,914.0L712.6,912.7M707.9,930.1L704.5,928.2M727.6,1011.7L726.0,1016.4M753.4,1015.3L753.7,1018.0M696.7,953.3L694.1,953.4M786.5,932.9L789.1,931.6M729.4,913.0L727.6,908.9M763.8,1009.5L765.1,1014.1M756.8,1004.8L757.8,1010.0M775.1,989.1L778.3,993.4M788.2,966.6L793.0,968.2M746.4,909.8L746.3,906.8M726.0,990.7L724.8,993.0M802.5,937.0L805.3,936.2M767.6,911.3L769.1,908.2M785.6,931.7L790.0,929.2M701.5,981.6L700.1,982.5M800.4,974.8L804.6,976.5M714.6,1005.2L713.2,1007.3M708.7,909.4L707.1,907.6M803.7,937.1L806.1,936.4M689.8,955.2L685.1,955.4M770.9,905.1L772.1,902.6M712.9,993.5L711.4,995.3M748.1,995.9L748.2,999.6M804.9,945.6L806.7,945.4M695.8,953.3L693.4,953.3M710.5,918.0L706.9,914.7M787.2,990.8L790.0,993.4M744.1,909.2L743.9,906.8M697.4,924.0L693.1,921.5M743.9,1008.9L743.6,1012.7M756.5,997.2L757.0,999.4M706.7,923.4L705.4,922.5M728.4,913.6L727.4,911.5M706.3,940.0L703.3,939.1M719.7,919.7L717.0,916.4M735.3,1010.0L734.5,1013.6M696.3,982.4L694.4,983.5M764.5,1010.0L765.9,1014.5M781.9,921.5L783.1,920.5M711.2,908.7L708.7,905.6M783.9,982.5L788.1,985.9M704.0,989.6L700.4,992.8M757.2,910.1L758.3,905.3M765.3,992.8L766.8,996.0M778.9,983.6L782.6,987.1M698.6,932.7L694.2,930.8M708.4,924.6L706.2,923.0M707.4,929.9L704.5,928.3M796.4,960.0L798.8,960.4M756.1,907.1L756.8,903.7M779.3,986.1L781.6,988.5M795.7,965.4L799.9,966.6M788.7,1000.4L791.9,1004.0M812.0,945.3L814.2,945.1M786.4,934.6L790.5,932.7M782.7,926.0L784.3,924.7M785.7,931.7L788.8,930.0M789.8,962.8L794.9,964.0M781.8,926.2L783.4,925.0M717.8,918.6L715.4,915.8M793.2,911.1L795.5,909.1M741.9,1012.2L741.6,1015.2M706.7,968.2L705.1,968.8M746.0,1014.2L745.9,1018.4M790.4,953.3L794.4,953.3M690.9,948.3L688.5,948.1M790.0,958.8L791.9,959.1M755.3,1001.0L755.6,1003.2M690.4,961.9L688.4,962.2M711.3,910.1L709.3,907.8M797.3,956.4L800.2,956.6M793.4,965.8L795.7,966.5M755.2,910.5L756.1,905.3M762.8,999.6L764.0,1003.5M767.8,992.5L768.5,994.0M758.0,902.2L759.0,897.4M696.3,964.1L693.9,964.7M752.2,995.6L752.7,1000.0M776.5,910.2L778.6,907.1M759.0,1007.8L759.5,1010.2M745.2,894.7L745.1,891.9M718.1,1007.3L716.0,1011.1M793.7,946.7L798.0,946.1M699.5,972.8L696.9,973.8M706.8,913.4L705.6,912.3M788.0,933.4L789.5,932.7M729.8,906.2L728.3,902.0M709.3,928.4L705.2,925.9M807.3,979.1L809.0,979.9M780.2,980.6L783.8,983.7M770.0,908.5L770.9,906.8M749.4,909.1L749.6,905.9M745.5,997.1L745.4,1000.1M793.5,942.2L797.4,941.3M707.9,976.9L705.4,978.4M704.8,942.5L703.0,942.0M794.5,954.1L799.2,954.2M738.2,995.6L737.5,999.0M719.2,920.2L716.4,916.9M716.1,920.3L713.9,918.1M795.7,981.9L797.7,983.1M785.9,925.3L790.0,922.4M701.0,964.4L696.7,965.5M721.4,989.3L718.6,993.3M745.2,909.4L745.0,904.8M780.2,986.0L781.9,987.7M731.1,1001.5L730.4,1003.5M748.1,997.6L748.1,999.8M798.6,990.8L802.1,993.4M764.0,999.9L764.7,1002.1M792.1,962.5L796.2,963.4M716.0,918.3L713.3,915.4M744.2,895.9L743.9,892.1M708.8,973.7L704.4,976.1M730.3,900.1L729.1,896.3M728.2,998.7L727.0,1001.6M736.0,904.4L735.3,901.3M714.3,921.1L710.5,917.5M704.5,947.6L700.9,947.2M697.6,949.0L694.0,948.7M788.8,938.8L791.7,937.8M790.1,994.2L791.4,995.4M712.7,978.1L710.1,980.0M704.2,945.4L701.2,944.9M784.0,991.5L786.8,994.4M692.9,930.4L689.2,928.9M766.3,910.1L767.8,906.7M770.1,913.8L771.4,911.5M746.4,998.9L746.3,1000.4M738.8,996.0L738.2,999.3M714.6,914.5L711.2,910.6M807.0,975.1L808.9,975.8M718.6,920.9L715.0,916.9M747.4,996.0L747.4,998.4M711.1,1005.2L709.9,1006.9M705.9,919.2L702.0,916.0M770.5,915.8L772.4,912.7M695.3,974.0L692.9,974.9M777.6,989.0L779.8,991.6M700.3,955.4L695.3,955.6M772.6,913.5L774.9,910.0M707.9,992.3L705.1,995.2M795.9,961.6L801.1,962.5M794.5,947.4L799.6,946.8M737.5,904.1L736.6,899.3M700.3,960.4L698.0,960.8M704.8,975.4L702.4,976.6M717.1,908.5L715.6,906.2M704.7,927.0L703.3,926.2M783.6,921.2L785.6,919.4M768.6,1006.2L770.1,1010.0M789.0,926.3L792.4,924.2M705.6,923.9L702.1,921.5M750.8,909.8L751.0,908.1M790.6,926.9L794.7,924.5M706.6,936.0L703.6,934.8M697.0,976.3L693.6,977.9M787.2,989.6L790.9,993.1M702.1,959.9L698.0,960.5M772.3,987.9L774.7,991.3M789.6,943.7L791.5,943.3M739.0,909.6L738.5,907.4M755.2,901.7L755.8,897.4M711.8,915.5L708.2,911.7M797.8,941.3L799.4,940.9M765.1,913.5L766.9,909.5M777.6,916.8L779.5,914.5M700.3,971.9L696.0,973.6M716.9,913.5L715.0,911.1M797.7,934.7L800.2,933.8M798.1,944.4L800.9,944.0M801.6,945.1L804.3,944.7M782.0,923.4L785.0,920.9M763.1,911.3L764.0,908.9M700.9,924.7L699.5,923.8M768.5,901.2L769.5,898.8M768.0,897.7L768.7,896.0M760.2,911.0L761.7,906.0M707.6,921.2L705.8,919.7M747.8,899.1L747.8,897.3M753.5,909.3L754.2,904.3M701.0,946.4L698.7,946.1M769.1,999.4L770.6,1002.8M704.3,948.1L698.8,947.5M786.5,983.6L788.2,984.9M778.7,917.7L780.4,915.8M746.3,995.8L746.3,998.0M783.8,929.7L786.4,928.0M791.2,950.5L793.7,950.4M794.0,920.2L795.4,919.2M733.4,899.0L732.9,897.0M794.5,933.9L798.1,932.5M782.7,980.3L784.3,981.6M768.9,991.1L771.0,994.8M738.5,910.1L737.4,905.0M798.4,930.3L800.3,929.5M794.7,985.8L798.0,988.1M718.3,998.9L716.1,1002.3M755.0,995.2L755.7,998.8M777.8,920.7L779.3,919.2M771.4,914.8L773.2,911.9M793.0,921.0L797.2,918.1M758.7,998.3L759.3,1000.7M704.5,1001.9L703.3,1003.3M801.2,958.2L803.2,958.4M757.0,1000.4L757.5,1002.6M737.0,910.4L736.5,908.6M703.1,954.1L699.2,954.2M765.8,907.6L766.5,906.0M703.9,981.1L700.0,983.7M692.1,961.0L689.9,961.3M718.2,985.0L715.6,987.9M701.4,947.0L699.4,946.8M770.0,901.9L771.8,897.9M747.8,909.7L747.8,904.4M754.6,995.8L755.0,998.2M789.8,960.9L792.0,961.3M707.9,924.4L704.4,921.8M782.7,915.0L784.1,913.5M703.1,952.6L699.9,952.6M700.8,922.5L697.6,920.4M777.8,1003.7L779.4,1006.4M684.7,942.6L681.9,942.2M714.9,1007.7L712.2,1012.2M747.6,998.8L747.6,1001.8M789.3,972.3L790.7,972.9M808.2,941.1L812.9,940.2M779.6,924.3L781.5,922.6M738.3,1014.0L738.0,1016.4M694.0,976.4L691.5,977.5M791.5,994.4L793.4,996.2M705.0,943.6L703.0,943.2M710.4,977.4L708.9,978.4M773.8,911.1L776.0,907.6M735.9,907.6L734.9,903.8M731.1,993.7L729.8,997.0M710.5,930.8L706.2,928.2M703.2,936.4L698.1,934.5M753.4,909.8L754.1,904.9M789.5,970.1L793.7,971.8M756.5,1010.7L756.8,1012.8M716.9,993.4L714.0,997.3M695.4,947.0L690.9,946.5M759.7,897.8L760.8,892.9M752.2,904.2L752.7,898.9M700.9,979.2L697.5,981.1M702.9,966.6L700.4,967.3M704.6,937.3L700.2,935.7M701.0,952.9L698.3,952.9M704.0,930.5L699.4,928.2M756.3,892.8L756.8,889.2M726.1,910.1L724.8,907.4M702.4,934.5L697.4,932.5M692.7,974.4L689.4,975.7M778.0,1009.1L779.7,1012.2M787.7,921.4L792.0,918.0M709.2,973.5L706.1,975.2M763.9,993.1L765.4,996.7M797.2,950.8L800.4,950.7M729.6,1000.7L728.6,1003.2M704.1,926.7L701.1,924.9M742.4,1002.7L741.8,1008.1M710.7,975.7L706.9,978.1M782.6,978.4L786.4,981.2M762.4,912.4L764.0,908.1M737.7,908.7L737.1,906.2M787.5,925.1L790.2,923.2M800.6,971.8L805.6,973.6M715.3,922.6L711.5,919.0M724.9,1004.9L723.9,1007.4M803.3,938.5L806.2,937.7M755.4,996.7L756.0,1000.1M735.2,999.6L734.2,1003.1M712.1,977.4L708.1,980.2M748.8,996.4L748.9,998.8M724.3,914.2L722.1,910.5M740.6,1007.2L740.2,1010.5M762.1,911.9L763.6,907.8M805.9,937.2L808.2,936.5M782.4,990.5L785.9,994.3M717.7,985.3L716.1,987.0M781.4,985.9L783.3,987.7M709.7,986.1L707.6,988.0M784.7,975.2L787.1,976.6M784.9,983.4L787.6,985.6M788.3,970.8L790.1,971.6M734.6,1015.0L733.6,1019.9M777.3,985.5L780.1,988.6M720.1,989.7L717.5,993.1M773.2,915.8L774.4,913.9M791.9,925.6L793.3,924.7M770.3,990.0L771.9,992.5M728.8,999.1L726.9,1003.6M738.2,909.7L737.3,905.5M802.2,953.1L804.9,953.2M777.4,913.7L778.9,911.7M763.7,891.7L764.2,889.9M706.2,985.3L704.1,987.0M806.5,932.1L810.7,930.6M715.2,919.3L712.2,916.2M689.9,948.5L685.4,948.2M716.2,916.3L715.1,915.0M710.3,975.8L708.5,976.9M726.3,914.2L724.6,911.1M788.9,935.1L793.5,933.1M706.0,935.4L702.6,934.0M772.0,997.0L773.6,999.9M768.5,915.1L769.9,912.5M788.6,969.2L792.6,970.8M781.4,982.0L783.6,983.9M804.3,980.4L806.0,981.2M795.4,946.8L798.9,946.4M765.1,997.4L767.0,1002.2M707.2,911.2L705.5,909.4M775.1,985.7L778.2,989.4M767.0,998.7L769.1,1003.5M759.2,899.4L759.8,896.6M767.8,913.0L769.5,909.7M768.9,914.5L770.8,911.2M775.1,893.6L776.6,890.4M771.8,990.0L772.8,991.5M776.3,1000.7L777.2,1002.2M766.3,1001.1L768.0,1005.7M758.0,908.0L758.9,903.9M707.8,974.2L704.2,976.1M783.2,928.1L785.9,926.3M722.2,988.4L720.6,990.7M707.9,915.7L704.8,912.9M729.8,1010.5L728.6,1014.4M716.2,999.7L715.0,1001.6M706.6,966.8L703.8,967.8M706.1,976.8L703.4,978.3M771.3,1004.0L772.1,1005.7M746.5,995.9L746.4,998.4M706.0,938.2L704.2,937.5M710.8,930.1L709.3,929.1M778.9,916.4L781.9,913.0M799.2,949.8L804.0,949.5M775.3,1004.4L777.4,1008.5M754.4,910.3L754.9,907.4M711.1,928.4L707.5,925.9M777.3,921.2L779.3,919.2M724.3,903.3L723.1,900.6M796.5,936.2L800.2,934.9M696.0,936.5L691.0,934.9M746.1,996.4L746.0,1001.3M779.9,981.0L783.5,984.0M705.5,937.9L702.7,936.9M792.2,956.7L795.7,957.0M760.8,911.9L762.3,907.4M710.8,982.1L707.0,985.1M781.9,917.5L783.8,915.5M785.8,922.6L787.6,921.2M699.7,962.6L696.9,963.2M789.0,965.0L791.5,965.7M790.4,950.7L794.9,950.5M755.0,903.6L755.4,900.6M765.0,892.8L765.7,890.2M744.3,905.5L744.1,902.6M702.4,958.1L700.0,958.3M775.7,985.2L777.9,987.7M706.9,934.2L705.3,933.4M728.7,1001.3L726.8,1006.2M790.3,929.6L792.3,928.6M792.4,949.2L795.6,949.0M790.2,972.2L792.6,973.3M790.4,959.1L794.7,959.7M712.1,978.6L708.1,981.5M767.6,1011.0L768.2,1012.7M779.3,921.1L780.9,919.5M788.1,912.4L790.0,910.4M720.2,915.9L718.5,913.6M710.5,974.9L708.0,976.3M692.6,929.4L689.0,927.9M726.8,990.7L725.8,992.5M793.2,981.8L796.3,983.8M700.0,935.7L697.4,934.8M744.9,1004.3L744.6,1008.9M755.8,894.2L756.2,891.6M787.7,937.1L790.9,935.9M756.1,896.0L756.8,891.5M790.0,960.4L793.5,961.0M771.5,1005.6L772.4,1007.5M743.0,895.5L742.9,893.9M750.2,1012.1L750.4,1016.2M761.9,908.5L763.5,903.7M742.9,910.0L742.6,906.9M716.8,921.4L715.0,919.6M752.5,996.2L753.0,1000.2M791.2,951.2L793.3,951.2M777.5,920.4L780.8,916.9M724.4,993.8L723.3,995.6M709.4,926.0L705.3,923.2M781.0,922.6L784.7,919.3M786.7,907.7L787.7,906.5M803.3,943.7L807.7,943.0M735.8,898.7L735.3,896.3M731.4,912.9L730.5,910.6M793.6,988.6L797.6,991.7M704.2,956.2L702.0,956.4M778.7,994.7L779.8,996.2M786.1,917.9L787.7,916.4M786.5,970.9L789.3,972.2M719.4,985.5L716.8,988.6M685.8,933.3L681.6,932.0M722.8,1006.7L721.5,1009.5M746.0,1002.1L745.9,1004.6M788.5,989.5L792.3,993.0M732.0,910.7L730.7,907.3M789.7,945.2L794.6,944.3M697.4,920.0L694.0,917.8M710.0,988.4L707.4,990.9M727.6,912.6L726.0,909.3M701.6,913.7L698.3,910.8M704.0,959.2L698.9,960.0M700.2,945.6L697.8,945.3M767.7,910.9L769.8,906.5M776.4,921.0L779.7,917.5M778.5,983.1L779.8,984.4M763.0,907.8L763.6,906.1M798.6,951.8L802.0,951.8M749.8,909.5L750.0,906.5M750.9,998.0L751.2,1001.0M762.2,999.0L762.8,1001.1M740.5,997.1L739.8,1001.8M711.0,910.9L708.9,908.5M713.9,922.2L711.5,920.0M737.0,909.5L736.1,905.6M720.1,989.2L717.0,993.4M798.2,943.6L802.3,942.8M795.0,975.5L798.2,977.0M790.3,922.2L793.5,919.9M694.0,965.7L690.7,966.5M703.6,970.2L699.2,972.0M744.7,907.1L744.4,902.9M753.8,900.1L754.1,897.7M765.2,913.4L767.0,909.3M795.3,970.0L798.5,971.2M730.8,910.0L728.8,904.8M777.5,921.6L779.9,919.0M791.6,949.7L794.3,949.5M777.9,915.4L779.9,912.9M728.7,1005.3L727.0,1010.0M760.2,993.9L761.1,996.8M698.7,956.2L694.0,956.5M789.6,929.4L792.0,928.0M706.7,979.0L704.5,980.4M734.1,1002.6L733.1,1006.4M789.9,934.3L791.5,933.7M719.8,919.8L718.7,918.4M771.8,1004.8L773.8,1009.1M724.0,907.8L723.0,905.7M782.3,998.3L783.5,999.8M759.9,895.8L760.7,891.7M789.7,924.4L791.2,923.4M800.4,967.0L802.8,967.7M727.2,996.7L725.0,1001.4M771.0,916.4L773.9,911.8M791.9,962.1L794.2,962.6M786.2,978.7L788.9,980.5M791.7,935.1L794.4,934.0M689.7,954.1L686.3,954.1M708.2,925.1L706.5,924.0M790.6,918.5L794.6,915.2M699.5,918.5L695.2,915.5M790.1,966.7L792.5,967.5M770.5,1001.1L771.3,1002.7M787.1,980.0L790.3,982.2M793.8,962.8L797.8,963.6M707.6,931.6L703.9,929.6M775.5,1003.6L777.8,1007.9M704.4,958.2L699.4,958.8M699.5,954.0L696.2,954.0M701.2,942.3L699.0,941.8M759.9,994.2L761.3,999.0M794.1,914.5L797.7,911.5M731.0,912.1L730.2,910.1M792.2,961.6L794.8,962.1M789.4,977.4L792.8,979.4M795.2,965.5L799.8,966.7M767.9,901.6L769.8,896.7M711.4,976.6L707.7,979.0M773.6,989.4L774.9,991.3M716.3,1008.4L714.7,1011.4M757.8,896.7L758.6,892.8M708.4,913.8L707.1,912.4M711.0,1003.5L708.4,1007.1M777.3,897.1L779.6,892.9M708.4,927.9L704.5,925.4M729.6,1008.7L728.0,1013.8M799.9,942.3L804.7,941.3M727.0,905.4L725.2,901.2M723.6,899.8L722.3,897.0M715.8,907.9L713.6,904.7M758.9,911.4L759.3,909.8M765.0,910.3L766.2,907.2M757.6,996.8L758.5,1000.6M785.1,976.0L787.8,977.7M762.6,912.3L763.2,910.7M771.1,1006.8L772.1,1009.0M687.8,950.3L683.0,950.1M705.0,945.5L699.8,944.6M763.5,911.8L764.2,910.0M778.2,916.6L781.6,912.7M714.8,991.3L712.9,993.6M798.8,972.0L802.3,973.3M747.8,896.3L747.8,891.8M717.9,1010.5L717.0,1012.4M709.3,932.8L705.3,930.8M737.2,1004.7L736.5,1008.3M797.1,945.9L801.3,945.4M797.6,940.9L800.1,940.3M698.8,928.0L696.2,926.7M691.6,947.2L687.2,946.7M789.8,942.5L794.9,941.3M727.5,994.6L726.4,996.8M695.1,969.7L690.8,971.1M777.8,995.9L780.0,998.9M748.1,908.5L748.2,903.3M735.5,1001.1L734.4,1005.6M769.8,909.9L772.3,905.2M749.2,995.8L749.4,1000.4M701.2,981.0L698.9,982.4M796.2,942.6L800.7,941.7M796.1,933.6L799.0,932.5M721.8,988.1L719.7,991.0M719.8,903.1L718.5,900.6M707.0,977.3L703.4,979.5M707.4,980.4L703.4,983.2M770.3,915.9L772.7,912.1M792.9,919.0L796.8,916.1M778.7,922.9L781.8,919.9M740.6,995.3L739.9,1000.1M761.9,910.0L762.5,908.3M727.8,991.1L726.9,992.9M790.6,969.6L795.0,971.3M767.6,914.6L769.5,911.0M723.8,995.1L721.5,999.2M776.2,907.0L777.1,905.6M794.0,961.2L795.7,961.5M739.6,904.6L739.1,901.1M756.9,1015.9L757.7,1021.2M790.3,949.1L792.4,948.9M726.2,905.8L725.1,903.2M711.0,978.2L707.4,980.8M706.9,969.2L704.8,970.1M738.5,901.8L738.1,899.5M781.3,913.6L783.0,911.7M777.5,1002.8L778.4,1004.2M712.6,997.6L710.5,1000.2M793.1,924.5L797.2,922.0M784.9,983.4L786.7,984.9M699.3,973.0L695.0,974.8M776.1,984.8L778.6,987.7M802.0,955.9L805.4,956.1M784.1,922.1L786.2,920.3M782.7,921.8L784.5,920.3M785.2,927.4L788.4,925.3M761.8,997.1L763.1,1000.9M707.4,968.8L705.8,969.4M706.3,982.5L704.4,984.0M730.7,909.1L728.9,904.3M800.5,974.9L803.3,976.1M769.7,908.2L770.4,906.8M800.7,944.7L802.4,944.5M787.1,934.3L791.9,932.1M786.0,931.3L787.4,930.6M794.4,988.7L796.2,990.0M772.1,993.3L774.5,997.3M784.6,931.2L787.8,929.4M697.9,952.0L693.2,952.0M792.7,968.9L795.6,969.9M746.0,909.8L745.9,905.1M783.5,987.6L785.8,989.9M794.9,945.7L796.8,945.4M779.8,908.1L781.5,905.7M750.8,909.6L751.2,904.2M790.5,954.7L794.7,954.9M701.2,946.9L697.3,946.4M792.5,926.7L797.0,924.1M738.5,910.7L737.4,905.9M790.6,911.3L793.7,908.3M733.3,995.6L732.7,997.4M748.1,908.5L748.2,905.4M754.5,1011.0L755.0,1015.5M788.8,918.5L790.2,917.3M699.6,984.2L695.1,987.1M760.3,1006.4L760.9,1008.9M790.8,950.0L795.1,949.7M746.1,900.2L746.0,897.6M731.6,912.0L729.7,907.0M705.1,925.5L701.5,923.2M787.0,969.6L789.8,970.8M794.9,993.5L796.8,995.2M766.3,991.6L767.7,994.4M698.5,970.4L693.5,972.2M768.7,915.4L769.9,913.3M763.9,904.9L764.4,903.5M783.3,928.4L786.5,926.2M765.7,992.1L768.0,997.0M719.4,913.2L718.4,911.7M782.8,905.6L785.5,902.1M757.8,910.0L758.7,906.5M748.0,1006.6L748.0,1009.6M754.5,995.9L755.0,998.9M717.9,916.5L716.8,915.2M770.1,915.2L771.8,912.4M697.4,965.6L695.5,966.1M767.6,991.8L768.5,993.5M708.1,999.6L707.0,1001.0M745.6,904.4L745.4,899.1M792.2,989.9L794.1,991.4M696.9,965.5L693.7,966.3M704.1,957.8L700.1,958.3M793.6,960.0L797.2,960.5M698.2,953.1L696.1,953.1M765.6,992.7L767.8,997.3M756.3,994.9L756.7,996.9M747.0,893.4L747.0,889.2M687.7,955.8L685.4,955.9M727.4,994.0L725.6,997.8M716.9,983.7L715.8,984.8M745.1,999.2L744.9,1003.6M750.8,1009.3L750.9,1011.4M698.3,925.2L696.1,924.0M707.5,929.0L703.1,926.4M784.8,907.7L788.2,903.7M801.6,971.0L803.1,971.5M733.1,1009.9L732.4,1013.0M778.9,908.8L780.9,905.9M749.4,1003.1L749.6,1007.8M789.8,942.6L794.8,941.4M768.7,999.3L769.8,1001.5M697.2,945.2L692.8,944.5M697.5,961.8L696.0,962.0M757.2,910.0L758.4,904.8M699.0,983.9L695.2,986.3M719.9,907.5L718.7,905.4M743.1,995.6L742.8,998.7M801.6,981.6L804.1,983.0M707.2,969.5L705.8,970.1M781.1,1006.6L783.6,1010.7M709.5,910.0L706.5,906.6M745.4,1007.2L745.2,1012.1M710.4,929.7L707.3,927.8M741.3,995.5L741.0,997.6M812.6,960.8L814.7,961.0M703.1,946.5L699.7,946.1M788.0,967.4L789.7,968.0M732.9,911.1L731.4,906.9M686.3,956.0L684.6,956.0M731.3,910.2L730.5,907.9M761.2,911.9L762.0,909.8M765.3,902.2L765.9,900.4M707.6,935.6L704.1,934.1M718.1,920.0L716.0,917.6M740.5,910.3L740.1,908.0M714.8,913.5L711.5,909.5M728.5,999.6L727.7,1001.6M754.7,898.7L755.4,893.4M731.0,994.4L730.4,996.0M780.8,920.3L782.3,918.9M702.6,946.8L699.0,946.3M781.2,979.5L783.9,981.6M725.9,914.6L724.3,911.6M715.7,923.5L712.7,920.7M802.3,965.9L805.5,966.7M734.1,993.8L732.7,998.1M786.6,976.2L791.2,978.9M734.8,1004.3L734.4,1006.2M772.0,993.8L773.1,995.7M751.7,906.9L751.9,904.9M790.0,945.2L794.3,944.4M798.2,917.9L800.4,916.4M789.8,986.6L791.8,988.1M688.8,964.3L684.0,965.2M771.8,999.2L772.9,1001.2M771.6,902.7L772.3,901.3M701.4,916.4L697.6,913.4M742.9,997.8L742.6,1000.7M793.2,990.8L796.3,993.4M749.6,889.0L749.8,883.5M749.0,898.6L749.2,894.5M770.5,916.2L772.1,913.8M716.3,998.3L713.5,1002.5M795.9,933.0L799.7,931.4M780.4,917.8L782.3,915.7M758.6,898.1L759.2,895.3M783.6,979.2L787.4,982.0M786.3,971.3L788.4,972.3M699.8,986.6L696.5,988.9M691.6,963.3L688.9,963.8M708.7,933.6L704.4,931.5M701.7,957.4L697.5,957.8M795.2,963.4L799.4,964.4" stroke="#333" stroke-width="0.85" stroke-linecap="round" stroke-opacity="0.5" fill="none" filter="url(#soft2)"/>
<path d="M757.7,1013.3L758.2,1016.3M692.1,944.0L689.5,943.6M726.7,898.0L724.9,893.1M765.9,896.7L766.9,893.8M740.5,909.9L740.2,907.8M719.0,991.7L718.1,992.9M686.1,939.8L681.2,938.7M795.2,970.9L796.8,971.5M777.7,917.5L780.1,914.7M705.4,963.7L702.9,964.4M792.9,943.6L795.2,943.1M759.3,1000.1L760.2,1003.6M786.6,926.5L790.9,923.7M699.2,961.0L696.2,961.5M764.2,993.3L765.8,997.1M741.0,894.5L740.8,892.3M729.4,993.3L727.6,997.4M783.8,920.4L786.1,918.4M703.5,950.8L699.4,950.6M784.9,980.9L788.8,983.8M790.4,964.0L792.6,964.5M704.1,951.6L700.5,951.5M789.6,995.9L790.8,997.1M704.5,949.7L701.5,949.5M693.0,972.8L690.7,973.7M758.8,906.5L759.8,902.6M768.0,990.5L770.2,994.5M702.4,954.3L699.8,954.4M769.4,1007.7L770.1,1009.5M717.3,908.8L715.3,906.0M794.0,964.2L798.5,965.3M720.9,988.2L718.3,991.8M708.5,979.7L705.6,981.7M792.8,956.8L798.0,957.3M720.7,992.2L719.8,993.5M695.4,978.9L691.1,981.1M793.2,968.0L796.4,969.1M790.1,941.6L794.0,940.6M725.3,912.9L724.3,911.0M781.6,926.7L783.7,925.0M771.0,911.3L772.6,908.5M777.8,906.1L778.7,904.8M699.8,948.8L698.2,948.7M772.2,917.6L775.3,913.2M779.1,905.1L780.9,902.5M790.3,955.7L793.8,955.9M712.7,981.7L710.4,983.6M749.2,996.3L749.3,998.5M731.6,901.1L730.5,897.6M803.5,942.6L808.8,941.6M785.3,920.9L788.2,918.5M781.4,919.0L784.7,915.7M707.9,931.4L705.0,929.8M703.2,952.8L699.6,952.8M711.6,976.8L709.3,978.3M711.4,927.4L710.1,926.5M792.4,970.6L797.2,972.5M772.3,997.2L773.7,999.7M690.1,954.1L687.7,954.2M784.7,999.7L787.2,1002.8M788.5,988.8L792.5,992.2M736.9,911.0L735.9,907.3M762.3,996.9L763.5,1000.2M703.9,916.7L701.2,914.4M725.8,915.5L724.1,912.7M722.0,901.8L720.7,899.1M731.1,992.6L729.9,995.4M703.2,991.5L701.4,993.1M757.5,995.5L758.4,999.6M688.7,929.4L683.7,927.5M781.4,979.8L784.1,981.9M803.9,960.4L809.2,961.1M810.3,945.2L815.1,944.6M728.1,998.6L726.6,1001.9M772.7,993.3L774.7,996.4M776.3,919.9L778.0,918.0M761.4,1001.3L761.9,1003.2M796.7,935.3L799.5,934.3M789.0,938.8L792.4,937.7M765.3,1010.1L766.0,1012.4M724.8,906.4L723.9,904.4M791.3,953.9L795.6,954.0M783.9,975.7L785.6,976.8M753.2,907.8L753.8,902.7M736.4,901.8L735.9,899.6M706.8,1000.5L705.5,1002.0" stroke="#f2f2f2" stroke-width="0.8" stroke-linecap="round" stroke-opacity="0.6" fill="none"/>
<path d="M817.9,999.0h1.6v1.3h-1.6zM789.6,863.7h1.6v1.3h-1.6zM705.2,1006.1h1.6v1.3h-1.6zM744.2,853.6h1.6v1.3h-1.6zM767.5,1054.5h1.6v1.3h-1.6zM826.7,949.0h1.6v1.3h-1.6zM678.4,1017.1h1.6v1.3h-1.6zM807.9,924.2h1.6v1.3h-1.6zM723.8,1022.7h1.6v1.3h-1.6zM740.0,887.1h1.6v1.3h-1.6zM668.0,928.7h1.6v1.3h-1.6zM716.2,897.3h1.6v1.3h-1.6zM853.3,923.2h1.6v1.3h-1.6zM655.7,915.7h1.6v1.3h-1.6zM790.2,1048.9h1.6v1.3h-1.6zM655.4,922.0h1.6v1.3h-1.6zM798.6,897.2h1.6v1.3h-1.6zM807.1,921.9h1.6v1.3h-1.6zM829.6,965.0h1.6v1.3h-1.6zM831.5,890.6h1.6v1.3h-1.6zM827.7,929.5h1.6v1.3h-1.6zM826.0,917.4h1.6v1.3h-1.6zM803.2,1023.5h1.6v1.3h-1.6zM773.4,878.3h1.6v1.3h-1.6zM691.3,910.9h1.6v1.3h-1.6zM734.6,1030.4h1.6v1.3h-1.6zM666.4,946.1h1.6v1.3h-1.6zM794.5,983.7h1.6v1.3h-1.6zM696.5,1032.7h1.6v1.3h-1.6zM746.7,884.0h1.6v1.3h-1.6zM744.4,1036.6h1.6v1.3h-1.6zM787.4,1031.8h1.6v1.3h-1.6zM802.5,914.9h1.6v1.3h-1.6zM665.9,904.2h1.6v1.3h-1.6zM746.9,858.3h1.6v1.3h-1.6zM730.1,884.2h1.6v1.3h-1.6zM803.2,862.8h1.6v1.3h-1.6zM848.6,987.5h1.6v1.3h-1.6zM690.6,974.2h1.6v1.3h-1.6zM837.1,994.8h1.6v1.3h-1.6zM719.4,895.6h1.6v1.3h-1.6zM659.8,975.3h1.6v1.3h-1.6zM821.5,951.7h1.6v1.3h-1.6zM754.6,883.9h1.6v1.3h-1.6zM767.8,1014.2h1.6v1.3h-1.6zM671.9,1000.6h1.6v1.3h-1.6zM726.2,1014.0h1.6v1.3h-1.6zM759.3,1012.2h1.6v1.3h-1.6zM773.0,1021.2h1.6v1.3h-1.6zM681.5,950.9h1.6v1.3h-1.6zM668.3,962.9h1.6v1.3h-1.6zM828.5,938.9h1.6v1.3h-1.6zM824.0,925.1h1.6v1.3h-1.6zM775.7,1036.1h1.6v1.3h-1.6zM787.4,1004.2h1.6v1.3h-1.6zM831.5,994.5h1.6v1.3h-1.6zM823.5,936.8h1.6v1.3h-1.6zM699.4,1015.5h1.6v1.3h-1.6zM691.6,1027.6h1.6v1.3h-1.6zM697.4,993.1h1.6v1.3h-1.6zM804.6,887.4h1.6v1.3h-1.6zM849.2,956.9h1.6v1.3h-1.6zM737.3,878.3h1.6v1.3h-1.6zM675.0,875.8h1.6v1.3h-1.6zM682.7,998.8h1.6v1.3h-1.6zM721.8,1034.8h1.6v1.3h-1.6zM697.5,871.1h1.6v1.3h-1.6zM808.0,932.8h1.6v1.3h-1.6zM679.5,1028.9h1.6v1.3h-1.6zM769.8,867.8h1.6v1.3h-1.6zM714.6,886.1h1.6v1.3h-1.6zM828.0,923.7h1.6v1.3h-1.6zM693.5,990.7h1.6v1.3h-1.6zM825.6,1022.1h1.6v1.3h-1.6zM765.3,898.2h1.6v1.3h-1.6zM711.0,1026.2h1.6v1.3h-1.6zM671.8,954.8h1.6v1.3h-1.6zM806.6,907.0h1.6v1.3h-1.6zM643.3,931.6h1.6v1.3h-1.6zM695.0,890.1h1.6v1.3h-1.6zM709.2,1019.6h1.6v1.3h-1.6zM671.2,890.5h1.6v1.3h-1.6zM742.3,1028.6h1.6v1.3h-1.6zM689.9,1001.8h1.6v1.3h-1.6zM820.1,908.5h1.6v1.3h-1.6zM735.5,1025.8h1.6v1.3h-1.6zM775.5,894.6h1.6v1.3h-1.6zM726.3,899.6h1.6v1.3h-1.6zM768.1,1008.3h1.6v1.3h-1.6zM769.3,892.7h1.6v1.3h-1.6zM755.5,1011.3h1.6v1.3h-1.6zM739.1,1048.0h1.6v1.3h-1.6zM727.8,849.5h1.6v1.3h-1.6zM828.4,924.7h1.6v1.3h-1.6zM801.1,924.1h1.6v1.3h-1.6zM818.2,916.8h1.6v1.3h-1.6zM781.2,1043.1h1.6v1.3h-1.6zM795.9,893.2h1.6v1.3h-1.6zM833.4,1009.8h1.6v1.3h-1.6zM749.4,864.6h1.6v1.3h-1.6zM804.8,944.4h1.6v1.3h-1.6zM806.3,974.4h1.6v1.3h-1.6zM840.8,965.7h1.6v1.3h-1.6zM704.9,907.5h1.6v1.3h-1.6zM781.9,1008.8h1.6v1.3h-1.6zM676.0,894.3h1.6v1.3h-1.6zM821.5,938.5h1.6v1.3h-1.6zM826.2,942.4h1.6v1.3h-1.6zM693.5,996.9h1.6v1.3h-1.6zM759.2,1060.8h1.6v1.3h-1.6zM841.5,949.8h1.6v1.3h-1.6zM777.2,1011.4h1.6v1.3h-1.6zM790.6,1014.1h1.6v1.3h-1.6zM742.6,893.8h1.6v1.3h-1.6zM656.3,935.3h1.6v1.3h-1.6zM825.4,969.5h1.6v1.3h-1.6zM769.5,868.6h1.6v1.3h-1.6zM648.6,983.8h1.6v1.3h-1.6zM687.7,908.8h1.6v1.3h-1.6zM662.5,1017.8h1.6v1.3h-1.6zM814.3,871.3h1.6v1.3h-1.6zM688.3,929.0h1.6v1.3h-1.6zM782.2,1021.1h1.6v1.3h-1.6zM726.9,900.4h1.6v1.3h-1.6zM779.0,859.6h1.6v1.3h-1.6zM691.3,947.6h1.6v1.3h-1.6zM770.7,878.0h1.6v1.3h-1.6zM705.3,876.9h1.6v1.3h-1.6zM736.8,875.4h1.6v1.3h-1.6zM851.6,926.0h1.6v1.3h-1.6zM827.9,914.3h1.6v1.3h-1.6zM716.5,1022.6h1.6v1.3h-1.6zM735.0,1056.9h1.6v1.3h-1.6zM773.2,857.7h1.6v1.3h-1.6zM794.8,854.1h1.6v1.3h-1.6zM719.6,885.1h1.6v1.3h-1.6zM750.7,882.7h1.6v1.3h-1.6zM697.9,911.4h1.6v1.3h-1.6zM799.0,888.6h1.6v1.3h-1.6zM730.8,1057.3h1.6v1.3h-1.6zM839.5,1005.7h1.6v1.3h-1.6zM750.2,888.8h1.6v1.3h-1.6zM753.4,866.0h1.6v1.3h-1.6zM820.6,904.5h1.6v1.3h-1.6zM651.9,999.7h1.6v1.3h-1.6zM831.0,1003.9h1.6v1.3h-1.6zM804.0,995.5h1.6v1.3h-1.6zM825.3,1020.3h1.6v1.3h-1.6zM658.5,986.9h1.6v1.3h-1.6zM743.4,1048.2h1.6v1.3h-1.6zM711.0,903.5h1.6v1.3h-1.6zM652.5,956.5h1.6v1.3h-1.6zM767.6,1041.9h1.6v1.3h-1.6zM734.1,1027.6h1.6v1.3h-1.6zM841.1,901.3h1.6v1.3h-1.6zM826.4,951.8h1.6v1.3h-1.6zM657.7,909.4h1.6v1.3h-1.6zM751.7,872.3h1.6v1.3h-1.6zM798.2,894.1h1.6v1.3h-1.6zM824.9,927.6h1.6v1.3h-1.6zM818.3,1018.2h1.6v1.3h-1.6zM804.3,1026.0h1.6v1.3h-1.6zM850.6,988.9h1.6v1.3h-1.6zM654.6,928.4h1.6v1.3h-1.6zM808.8,1019.1h1.6v1.3h-1.6zM697.8,1001.4h1.6v1.3h-1.6zM770.3,899.7h1.6v1.3h-1.6zM687.3,961.2h1.6v1.3h-1.6zM809.4,869.0h1.6v1.3h-1.6zM826.6,970.2h1.6v1.3h-1.6zM654.4,971.1h1.6v1.3h-1.6zM737.7,878.9h1.6v1.3h-1.6zM807.6,925.7h1.6v1.3h-1.6zM812.8,1028.5h1.6v1.3h-1.6zM795.5,998.0h1.6v1.3h-1.6zM673.2,952.7h1.6v1.3h-1.6zM802.2,1043.8h1.6v1.3h-1.6zM650.3,968.9h1.6v1.3h-1.6zM747.3,1058.1h1.6v1.3h-1.6zM766.3,1056.0h1.6v1.3h-1.6zM665.1,882.2h1.6v1.3h-1.6zM759.3,863.5h1.6v1.3h-1.6zM647.4,931.8h1.6v1.3h-1.6zM689.9,974.1h1.6v1.3h-1.6zM832.6,901.5h1.6v1.3h-1.6zM707.5,865.2h1.6v1.3h-1.6zM756.5,1033.3h1.6v1.3h-1.6zM795.1,856.0h1.6v1.3h-1.6zM804.7,922.8h1.6v1.3h-1.6zM712.7,874.2h1.6v1.3h-1.6zM693.6,989.3h1.6v1.3h-1.6zM800.4,1014.6h1.6v1.3h-1.6zM677.0,955.8h1.6v1.3h-1.6zM689.5,1016.3h1.6v1.3h-1.6zM753.9,865.2h1.6v1.3h-1.6zM801.9,1041.2h1.6v1.3h-1.6zM674.7,1032.5h1.6v1.3h-1.6zM810.6,945.5h1.6v1.3h-1.6zM653.3,899.3h1.6v1.3h-1.6zM683.2,1009.4h1.6v1.3h-1.6zM724.9,1005.8h1.6v1.3h-1.6zM765.1,1013.0h1.6v1.3h-1.6zM728.2,1040.7h1.6v1.3h-1.6zM648.5,911.4h1.6v1.3h-1.6zM717.6,883.4h1.6v1.3h-1.6zM833.1,924.6h1.6v1.3h-1.6zM648.6,925.3h1.6v1.3h-1.6zM711.0,886.7h1.6v1.3h-1.6zM690.3,908.6h1.6v1.3h-1.6zM815.3,939.5h1.6v1.3h-1.6zM806.0,942.7h1.6v1.3h-1.6zM833.1,958.1h1.6v1.3h-1.6zM770.3,1033.0h1.6v1.3h-1.6zM822.0,1021.2h1.6v1.3h-1.6zM702.1,871.6h1.6v1.3h-1.6zM845.5,904.1h1.6v1.3h-1.6zM706.2,867.7h1.6v1.3h-1.6zM806.1,953.5h1.6v1.3h-1.6zM650.4,1001.0h1.6v1.3h-1.6zM714.0,1032.8h1.6v1.3h-1.6zM825.7,957.2h1.6v1.3h-1.6zM819.3,902.3h1.6v1.3h-1.6zM772.9,902.2h1.6v1.3h-1.6zM766.6,1015.6h1.6v1.3h-1.6zM777.8,899.3h1.6v1.3h-1.6zM811.5,923.6h1.6v1.3h-1.6zM808.7,895.6h1.6v1.3h-1.6zM699.2,1049.7h1.6v1.3h-1.6zM669.9,1005.4h1.6v1.3h-1.6zM839.4,994.2h1.6v1.3h-1.6zM808.9,945.5h1.6v1.3h-1.6zM745.7,882.2h1.6v1.3h-1.6zM792.7,1013.4h1.6v1.3h-1.6zM690.8,861.4h1.6v1.3h-1.6zM857.0,948.6h1.6v1.3h-1.6zM682.2,888.9h1.6v1.3h-1.6zM797.8,1033.5h1.6v1.3h-1.6zM675.9,928.9h1.6v1.3h-1.6zM803.9,911.8h1.6v1.3h-1.6zM788.0,1003.0h1.6v1.3h-1.6zM799.3,1023.6h1.6v1.3h-1.6zM767.7,891.4h1.6v1.3h-1.6zM660.4,951.3h1.6v1.3h-1.6zM674.7,923.8h1.6v1.3h-1.6zM692.7,937.4h1.6v1.3h-1.6zM821.0,980.9h1.6v1.3h-1.6zM755.5,1049.3h1.6v1.3h-1.6zM752.5,1053.2h1.6v1.3h-1.6zM750.7,1013.7h1.6v1.3h-1.6zM671.2,963.7h1.6v1.3h-1.6zM697.6,1036.4h1.6v1.3h-1.6zM763.4,1043.6h1.6v1.3h-1.6zM788.2,883.5h1.6v1.3h-1.6zM641.5,950.7h1.6v1.3h-1.6zM695.2,912.8h1.6v1.3h-1.6zM802.2,978.4h1.6v1.3h-1.6zM717.6,1005.8h1.6v1.3h-1.6zM700.6,889.3h1.6v1.3h-1.6zM717.3,1030.9h1.6v1.3h-1.6zM811.2,926.0h1.6v1.3h-1.6z" fill="#4a4a4a" fill-opacity="0.7" filter="url(#soft2)"/>
<circle cx="747.4" cy="952.8" r="49" fill="none" stroke="#4db84a" stroke-width="5" opacity="0.35" filter="url(#soft)"/>
<ellipse cx="747.4" cy="952.8" rx="46" ry="45" fill="url(#invg)" filter="url(#soft)"/>
<ellipse cx="755.4" cy="944.8" rx="24" ry="22" fill="#1a5a1e" opacity="0.3" filter="url(#soft)"/>
<clipPath id="discclip"><ellipse cx="747.4" cy="952.8" rx="45" ry="44"/></clipPath>
<g clip-path="url(#discclip)" opacity="0.35"><rect x="701.4" y="906.8" width="92" height="92" filter="url(#noiseG)"/></g>
<rect x="795.6" y="1022" width="23.7" height="3.2" fill="#fff"/>
</g>
<g clip-path="url(#migclip)">
<rect x="672.4" y="1038.9" width="152.5" height="150.9" fill="#c6c6c6"/>
<g mask="url(#mm)"><rect x="672.4" y="1038.9" width="152.5" height="150.9" filter="url(#noiseG)"/><rect x="672.4" y="1038.9" width="152.5" height="150.9" filter="url(#noiseL)"/></g>
<g mask="url(#gm)"><rect x="672.4" y="1038.9" width="152.5" height="150.9" filter="url(#noiseV)"/></g>
<defs><radialGradient id="migcore" cx="0.5" cy="0.5" r="0.5"><stop offset="0" stop-color="#8aea1a"/><stop offset="0.6" stop-color="#92f02a"/><stop offset="0.8" stop-color="#94ee40" stop-opacity="0.8"/><stop offset="1" stop-color="#a0e870" stop-opacity="0"/></radialGradient></defs>
<circle cx="747.5" cy="1120" r="26" fill="url(#migcore)" opacity="0.6"/>
<circle cx="747.5" cy="1120" r="19" fill="#8cea2c" filter="url(#soft)"/>
<circle cx="747.5" cy="1120" r="21" fill="#000" filter="url(#noiseG)" opacity="0.18"/>
<rect x="796.4" y="1183" width="22.6" height="3" fill="#fff"/>
</g>
<line x1="548.6" y1="1023.3" x2="630" y2="979.5" stroke="#000" stroke-width="1.2"/>
<path d="M626,973 L637.8,975.6 L631,985 Z" fill="#000"/>
<line x1="548.6" y1="1050.3" x2="630" y2="1085.5" stroke="#000" stroke-width="1.2"/>
<path d="M631,1079 L638.4,1089.4 L626.5,1089.5 Z" fill="#000"/>
<defs><radialGradient id="glow" cx="0.5" cy="0.5" r="0.5"><stop offset="0" stop-color="#94d8d4"/><stop offset="0.5" stop-color="#86c6c3" stop-opacity="0.75"/><stop offset="1" stop-color="#80868a" stop-opacity="0"/></radialGradient><linearGradient id="lidg" x1="0" y1="0" x2="0" y2="1"><stop offset="0" stop-color="#8b8f92"/><stop offset="1" stop-color="#818588"/></linearGradient><linearGradient id="bodyg" x1="0" y1="0" x2="0" y2="1"><stop offset="0" stop-color="#f4f4f4"/><stop offset="1" stop-color="#efefef"/></linearGradient><filter id="gblur" x="-20%" y="-20%" width="140%" height="140%"><feGaussianBlur stdDeviation="1.2"/></filter><linearGradient id="diagsh" x1="0" y1="0" x2="1" y2="0"><stop offset="0" stop-color="#d8d8d8"/><stop offset="1" stop-color="#c4c4c4"/></linearGradient></defs>
<path d="M215.2,944 L217.3,926 Q219,915.5 228,915.5 L243,915.5 L243,908.6 L505,908.4 Q512,908.4 515,914 L534.5,945 Z" fill="url(#lidg)"/>
<path d="M215.2,944 L217.3,926 Q219,915.5 228,915.5 L243,915.5 L243,908.6 L246.5,908.6 L246.5,944 Z" fill="#7c7f83"/>
<path d="M489.8,908.4 L505,908.4 Q512,908.4 515,914 L534.5,945 L504.5,945 Z" fill="#808387"/>
<line x1="246.6" y1="908.6" x2="246.6" y2="941.5" stroke="#2e3033" stroke-width="1.3"/>
<line x1="489.8" y1="908.6" x2="504.5" y2="941.5" stroke="#2e3033" stroke-width="1.3"/>
<clipPath id="lidclip"><path d="M247.2,908.6 L489.5,908.6 L504,944 L247.2,944 Z"/></clipPath>
<g clip-path="url(#lidclip)"><ellipse cx="372" cy="918" rx="78" ry="46" fill="url(#glow)"/></g>
<rect x="213.5" y="941.5" width="322" height="218.5" rx="11" fill="url(#bodyg)"/>
<rect x="213.5" y="941.5" width="322" height="218.5" rx="11" fill="none" stroke="#e2e2e2" stroke-width="1"/>
<rect x="222.8" y="954" width="303" height="181" rx="7" fill="none" stroke="#d0d0d0" stroke-width="1.5"/>
<rect x="229.5" y="960.3" width="294" height="80.5" fill="#eaeaea"/>
<rect x="229.5" y="960.3" width="294" height="1.5" fill="#bcbcbc"/>
<rect x="229.5" y="990" width="105" height="50" fill="#eeeeee"/>
<rect x="229.5" y="1040.3" width="294" height="2.2" fill="#b2b2b2"/>
<path d="M229.5,1043 L523.4,1043 L523.4,1128 L301,1128 L236,1064 Q229.5,1058 229.5,1050 Z" fill="#ececec"/>
<path d="M229.5,1050 Q229.5,1058 236,1064 L301,1128" fill="none" stroke="url(#diagsh)" stroke-width="4"/>
<line x1="301" y1="1128" x2="523.4" y2="1128" stroke="#c4c4c4" stroke-width="1.2"/>
<line x1="523.4" y1="1043" x2="523.4" y2="1128" stroke="#cfcfcf" stroke-width="1.2"/>
<rect x="213.5" y="1136" width="322" height="24" rx="0" fill="#eeeeee" opacity="0.6"/>
<path d="M228.2,1094.5 L267,1131.3 L228.2,1131.8 Z" fill="none" stroke="#8ae886" stroke-width="4.2" stroke-linejoin="round" filter="url(#gblur)" opacity="0.75"/>
<path d="M228.2,1094.5 L267,1131.3 L228.2,1131.8 Z" fill="#f6f6f6" stroke="#5ccf58" stroke-width="2" stroke-linejoin="round"/>
<circle cx="234" cy="1118" r="0.7" fill="#888"/><circle cx="236" cy="1121" r="0.7" fill="#888"/><circle cx="238" cy="1123" r="0.7" fill="#888"/>
<text x="466" y="1115.8" font-size="8.4" font-weight="bold" fill="#6a6a6a" letter-spacing="0.35">INCUCYTE<tspan font-size="4.5" dy="-3.2">&#174;</tspan></text>
<path d="M232.8,1160 L274.2,1160 L272,1166 Q270,1168 266,1168 L241,1168 Q236,1168 234.5,1166 Z" fill="#1e1e1e"/>
<path d="M474.4,1160 L515.2,1160 L513,1166 Q511,1168 507,1168 L482,1168 Q477,1168 476,1166 Z" fill="#1e1e1e"/>
</svg></body></html>
